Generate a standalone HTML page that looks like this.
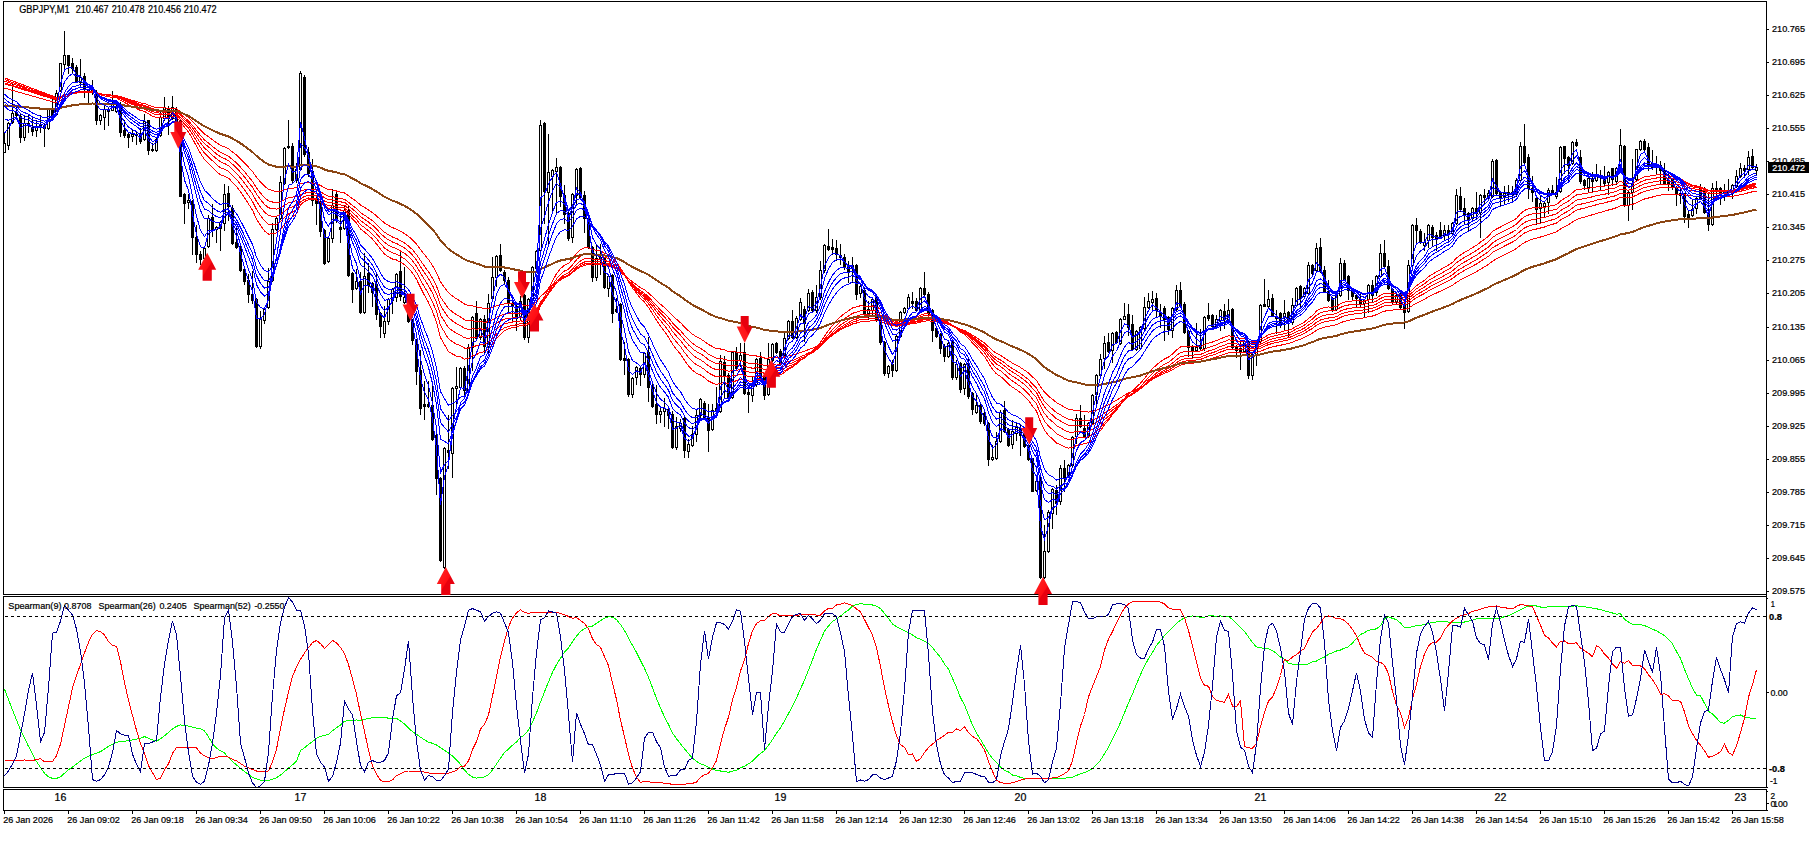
<!DOCTYPE html>
<html><head><meta charset="utf-8"><title>GBPJPY,M1</title>
<style>html,body{margin:0;padding:0;background:#fff;overflow:hidden}svg text{font-family:"Liberation Sans",sans-serif}</style></head>
<body>
<svg width="1816" height="847" viewBox="0 0 1816 847" shape-rendering="crispEdges" style="display:block">
<rect width="1816" height="847" fill="#fff"/>
<defs><clipPath id="cm"><rect x="4" y="2" width="1762" height="592"/></clipPath><clipPath id="ci"><rect x="4" y="597" width="1762" height="190"/></clipPath></defs>
<g clip-path="url(#cm)">
<path d="M4.5 132V153 M8.5 122V150 M12.5 84V124 M16.5 106V120 M20.5 114V143 M24.5 115V141 M28.5 115V133 M32.5 118V136 M36.5 120V137 M40.5 115V133 M44.5 123V147 M48.5 108V130 M52.5 96V117 M56.5 90V116 M60.5 63V92 M64.5 31V70 M68.5 55V74 M72.5 58V74 M76.5 65V83 M80.5 59V87 M84.5 73V98 M88.5 89V103 M92.5 80V95 M96.5 90V125 M100.5 114V125 M104.5 106V130 M108.5 108V126 M112.5 91V111 M116.5 104V113 M120.5 102V137 M124.5 120V138 M128.5 133V148 M132.5 129V142 M136.5 131V145 M140.5 128V144 M144.5 114V141 M148.5 120V155 M152.5 143V152 M156.5 138V152 M160.5 110V137 M164.5 97V121 M168.5 106V135 M172.5 96V120 M176.5 107V123 M180.5 120V197 M184.5 193V224 M188.5 194V209 M192.5 200V255 M196.5 225V263 M200.5 251V265 M204.5 246V260 M208.5 215V248 M212.5 204V237 M216.5 226V243 M220.5 221V251 M224.5 184V231 M228.5 186V221 M232.5 205V245 M236.5 228V249 M240.5 245V272 M244.5 268V285 M248.5 274V303 M252.5 271V304 M256.5 298V348 M260.5 311V349 M264.5 308V324 M268.5 268V309 M272.5 223V282 M276.5 216V231 M280.5 176V220 M284.5 147V185 M288.5 120V149 M292.5 143V183 M296.5 163V183 M300.5 71V171 M304.5 75V157 M308.5 147V177 M312.5 159V206 M316.5 197V225 M320.5 200V237 M324.5 229V265 M328.5 237V263 M332.5 189V243 M336.5 192V223 M340.5 214V243 M344.5 206V230 M348.5 206V277 M352.5 272V303 M356.5 269V290 M360.5 272V314 M364.5 253V314 M368.5 263V293 M372.5 282V307 M376.5 273V320 M380.5 312V338 M384.5 306V338 M388.5 298V325 M392.5 288V314 M396.5 273V302 M400.5 252V301 M404.5 267V304 M408.5 297V323 M412.5 319V345 M416.5 339V385 M420.5 350V415 M424.5 381V420 M428.5 381V408 M432.5 384V441 M436.5 434V495 M440.5 477V562 M444.5 447V569 M448.5 415V469 M452.5 387V478 M456.5 367V404 M460.5 367V389 M464.5 366V395 M468.5 344V395 M472.5 316V371 M476.5 301V340 M480.5 318V340 M484.5 315V353 M488.5 294V353 M492.5 257V300 M496.5 255V287 M500.5 244V272 M504.5 270V284 M508.5 277V314 M512.5 301V322 M516.5 305V331 M520.5 296V321 M524.5 294V340 M528.5 298V343 M532.5 266V301 M536.5 250V270 M540.5 120V253 M544.5 122V224 M548.5 134V244 M552.5 169V212 M556.5 158V214 M560.5 166V207 M564.5 185V224 M568.5 212V241 M572.5 193V243 M576.5 168V205 M580.5 167V199 M584.5 191V233 M588.5 217V249 M592.5 246V282 M596.5 245V281 M600.5 244V275 M604.5 257V289 M608.5 275V297 M612.5 274V323 M616.5 298V313 M620.5 303V361 M624.5 342V375 M628.5 358V397 M632.5 377V398 M636.5 366V385 M640.5 367V386 M644.5 352V378 M648.5 337V402 M652.5 384V408 M656.5 385V424 M660.5 406V423 M664.5 398V427 M668.5 408V429 M672.5 411V449 M676.5 417V450 M680.5 419V432 M684.5 417V458 M688.5 439V458 M692.5 426V447 M696.5 410V442 M700.5 398V419 M704.5 401V420 M708.5 404V452 M712.5 404V431 M716.5 387V417 M720.5 355V413 M724.5 356V399 M728.5 373V399 M732.5 351V399 M736.5 347V370 M740.5 343V367 M744.5 343V395 M748.5 388V413 M752.5 377V402 M756.5 358V387 M760.5 352V379 M764.5 376V400 M768.5 343V396 M772.5 343V362 M776.5 342V354 M780.5 349V366 M784.5 333V357 M788.5 320V340 M792.5 310V339 M796.5 316V339 M800.5 298V321 M804.5 306V342 M808.5 289V312 M812.5 290V312 M816.5 285V313 M820.5 261V300 M824.5 244V273 M828.5 229V251 M832.5 239V255 M836.5 240V261 M840.5 244V265 M844.5 254V270 M848.5 261V283 M852.5 257V283 M856.5 264V300 M860.5 285V298 M864.5 287V315 M868.5 301V320 M872.5 297V315 M876.5 296V322 M880.5 318V345 M884.5 341V376 M888.5 365V378 M892.5 360V377 M896.5 334V372 M900.5 311V338 M904.5 307V314 M908.5 294V310 M912.5 292V309 M916.5 298V312 M920.5 287V311 M924.5 272V296 M928.5 292V315 M932.5 309V342 M936.5 327V338 M940.5 333V354 M944.5 344V362 M948.5 342V358 M952.5 340V380 M956.5 360V380 M960.5 362V393 M964.5 363V395 M968.5 359V399 M972.5 392V415 M976.5 395V414 M980.5 403V424 M984.5 412V426 M988.5 422V466 M992.5 445V461 M996.5 432V460 M1000.5 410V443 M1004.5 401V433 M1008.5 428V447 M1012.5 420V449 M1016.5 422V441 M1020.5 425V456 M1024.5 433V448 M1028.5 444V461 M1032.5 458V492 M1036.5 481V492 M1040.5 477V579 M1044.5 525V579 M1048.5 510V553 M1052.5 488V529 M1056.5 485V515 M1060.5 465V505 M1064.5 460V492 M1068.5 464V477 M1072.5 436V467 M1076.5 414V444 M1080.5 405V428 M1084.5 415V438 M1088.5 422V438 M1092.5 394V425 M1096.5 374V407 M1100.5 354V377 M1104.5 336V369 M1108.5 333V353 M1112.5 332V363 M1116.5 331V344 M1120.5 318V345 M1124.5 303V320 M1128.5 304V336 M1132.5 315V351 M1136.5 330V351 M1140.5 326V350 M1144.5 297V330 M1148.5 293V309 M1152.5 291V311 M1156.5 293V318 M1160.5 304V328 M1164.5 306V341 M1168.5 316V335 M1172.5 307V338 M1176.5 285V311 M1180.5 282V307 M1184.5 302V334 M1188.5 330V357 M1192.5 345V359 M1196.5 323V352 M1200.5 329V350 M1204.5 316V351 M1208.5 303V321 M1212.5 314V328 M1216.5 315V328 M1220.5 309V331 M1224.5 304V329 M1228.5 299V321 M1232.5 308V349 M1236.5 345V358 M1240.5 341V370 M1244.5 340V353 M1248.5 340V379 M1252.5 353V380 M1256.5 341V366 M1260.5 304V343 M1264.5 279V307 M1268.5 290V308 M1272.5 294V317 M1276.5 310V334 M1280.5 312V328 M1284.5 300V331 M1288.5 311V338 M1292.5 298V325 M1296.5 287V307 M1300.5 285V307 M1304.5 287V298 M1308.5 262V295 M1312.5 264V275 M1316.5 243V272 M1320.5 238V273 M1324.5 266V293 M1328.5 280V302 M1332.5 297V312 M1336.5 294V311 M1340.5 258V297 M1344.5 260V281 M1348.5 275V300 M1352.5 288V300 M1356.5 294V308 M1360.5 292V308 M1364.5 299V318 M1368.5 284V313 M1372.5 280V302 M1376.5 275V296 M1380.5 244V278 M1384.5 240V268 M1388.5 260V290 M1392.5 288V305 M1396.5 294V305 M1400.5 292V310 M1404.5 302V329 M1408.5 260V313 M1412.5 224V267 M1416.5 218V243 M1420.5 229V244 M1424.5 233V251 M1428.5 224V248 M1432.5 225V246 M1436.5 232V251 M1440.5 222V239 M1444.5 225V241 M1448.5 225V241 M1452.5 222V235 M1456.5 189V225 M1460.5 187V212 M1464.5 198V225 M1468.5 212V231 M1472.5 207V220 M1476.5 192V220 M1480.5 194V238 M1484.5 189V205 M1488.5 190V200 M1492.5 159V198 M1496.5 159V195 M1500.5 191V207 M1504.5 186V204 M1508.5 185V202 M1512.5 186V203 M1516.5 178V197 M1520.5 142V182 M1524.5 124V164 M1528.5 154V199 M1532.5 176V202 M1536.5 197V225 M1540.5 196V223 M1544.5 202V218 M1548.5 188V214 M1552.5 185V195 M1556.5 177V199 M1560.5 146V193 M1564.5 146V174 M1568.5 156V182 M1572.5 141V165 M1576.5 139V147 M1580.5 150V184 M1584.5 179V190 M1588.5 177V193 M1592.5 172V193 M1596.5 164V182 M1600.5 170V190 M1604.5 166V187 M1608.5 171V195 M1612.5 168V186 M1616.5 167V185 M1620.5 129V171 M1624.5 145V207 M1628.5 191V221 M1632.5 159V210 M1636.5 149V181 M1640.5 140V151 M1644.5 139V151 M1648.5 143V171 M1652.5 150V170 M1656.5 156V175 M1660.5 161V185 M1664.5 163V185 M1668.5 174V191 M1672.5 178V190 M1676.5 186V206 M1680.5 188V204 M1684.5 193V223 M1688.5 211V228 M1692.5 200V217 M1696.5 197V214 M1700.5 184V200 M1704.5 187V214 M1708.5 192V231 M1712.5 183V226 M1716.5 181V197 M1720.5 187V205 M1724.5 184V201 M1728.5 179V196 M1732.5 184V199 M1736.5 170V188 M1740.5 163V178 M1744.5 165V177 M1748.5 151V175 M1752.5 149V169 M1756.5 164V176" stroke="#000" stroke-width="1" fill="none"/>
<path d="M15 112h3v4h-3z M19 116h3v22h-3z M27 123h3v2h-3z M31 127h3v5h-3z M39 124h3v4h-3z M43 125h3v4h-3z M51 109h3v7h-3z M67 55h3v11h-3z M71 63h3v6h-3z M75 67h3v15h-3z M83 76h3v14h-3z M87 90h3v2h-3z M95 94h3v27h-3z M119 107h3v26h-3z M123 130h3v6h-3z M127 134h3v4h-3z M135 134h3v2h-3z M139 134h3v8h-3z M147 120h3v31h-3z M167 108h3v11h-3z M175 109h3v13h-3z M179 121h3v76h-3z M183 194h3v10h-3z M191 201h3v37h-3z M195 237h3v18h-3z M199 254h3v6h-3z M211 217h3v13h-3z M227 193h3v14h-3z M231 208h3v36h-3z M235 242h3v6h-3z M239 246h3v25h-3z M243 269h3v13h-3z M247 280h3v15h-3z M251 294h3v7h-3z M255 299h3v48h-3z M287 146h3v2h-3z M291 146h3v35h-3z M303 77h3v78h-3z M307 152h3v22h-3z M311 171h3v30h-3z M315 198h3v6h-3z M319 202h3v30h-3z M323 230h3v34h-3z M335 194h3v25h-3z M339 227h3v3h-3z M347 210h3v66h-3z M351 273h3v17h-3z M359 281h3v32h-3z M367 273h3v13h-3z M371 283h3v10h-3z M375 284h3v31h-3z M379 313h3v14h-3z M399 271h3v26h-3z M407 298h3v24h-3z M411 320h3v21h-3z M415 340h3v32h-3z M419 370h3v39h-3z M423 404h3v3h-3z M427 404h3v3h-3z M431 405h3v35h-3z M435 435h3v44h-3z M439 478h3v83h-3z M447 450h3v3h-3z M463 368h3v23h-3z M475 313h3v26h-3z M483 319h3v28h-3z M499 255h3v16h-3z M503 272h3v9h-3z M507 280h3v24h-3z M511 303h3v4h-3z M515 306h3v13h-3z M523 295h3v43h-3z M543 123h3v69h-3z M559 167h3v30h-3z M563 195h3v20h-3z M567 213h3v26h-3z M579 168h3v30h-3z M583 195h3v24h-3z M587 218h3v30h-3z M591 247h3v31h-3z M599 257h3v3h-3z M603 258h3v30h-3z M611 275h3v39h-3z M615 309h3v3h-3z M619 304h3v56h-3z M623 358h3v3h-3z M627 359h3v36h-3z M639 368h3v7h-3z M647 352h3v36h-3z M651 385h3v22h-3z M655 404h3v11h-3z M667 409h3v7h-3z M671 414h3v34h-3z M683 418h3v33h-3z M703 403h3v16h-3z M707 417h3v14h-3z M723 362h3v15h-3z M727 375h3v23h-3z M735 352h3v17h-3z M743 352h3v42h-3z M747 392h3v3h-3z M759 358h3v20h-3z M763 377h3v19h-3z M775 343h3v10h-3z M779 351h3v14h-3z M791 321h3v17h-3z M803 309h3v15h-3z M811 292h3v19h-3z M827 246h3v4h-3z M831 247h3v3h-3z M835 248h3v7h-3z M839 255h3v3h-3z M843 257h3v11h-3z M847 267h3v6h-3z M855 265h3v30h-3z M863 290h3v24h-3z M875 297h3v24h-3z M879 319h3v24h-3z M883 342h3v32h-3z M891 364h3v7h-3z M911 301h3v3h-3z M915 301h3v10h-3z M923 288h3v7h-3z M927 294h3v20h-3z M931 310h3v21h-3z M935 328h3v9h-3z M939 334h3v15h-3z M943 346h3v11h-3z M951 341h3v37h-3z M959 363h3v27h-3z M967 363h3v34h-3z M971 393h3v17h-3z M979 405h3v17h-3z M983 413h3v11h-3z M987 423h3v37h-3z M1003 410h3v22h-3z M1007 429h3v17h-3z M1019 428h3v8h-3z M1023 434h3v13h-3z M1027 445h3v15h-3z M1031 458h3v34h-3z M1039 478h3v100h-3z M1055 490h3v14h-3z M1063 468h3v11h-3z M1079 418h3v9h-3z M1083 428h3v9h-3z M1107 342h3v10h-3z M1115 332h3v11h-3z M1127 314h3v14h-3z M1131 324h3v26h-3z M1155 298h3v13h-3z M1159 313h3v3h-3z M1163 308h3v12h-3z M1167 317h3v13h-3z M1179 290h3v16h-3z M1183 304h3v29h-3z M1187 331h3v17h-3z M1191 346h3v6h-3z M1199 345h3v4h-3z M1207 315h3v4h-3z M1211 315h3v12h-3z M1223 311h3v9h-3z M1231 309h3v39h-3z M1235 346h3v5h-3z M1239 348h3v4h-3z M1247 341h3v35h-3z M1263 304h3v3h-3z M1271 298h3v18h-3z M1275 316h3v3h-3z M1279 313h3v12h-3z M1287 312h3v10h-3z M1299 286h3v13h-3z M1311 265h3v9h-3z M1319 247h3v25h-3z M1323 270h3v22h-3z M1327 291h3v10h-3z M1331 298h3v12h-3z M1343 263h3v17h-3z M1347 276h3v15h-3z M1351 289h3v8h-3z M1355 295h3v4h-3z M1359 299h3v5h-3z M1371 285h3v11h-3z M1383 253h3v14h-3z M1387 266h3v23h-3z M1391 289h3v13h-3z M1399 294h3v14h-3z M1403 304h3v9h-3z M1415 225h3v6h-3z M1419 231h3v12h-3z M1431 227h3v11h-3z M1435 235h3v4h-3z M1439 230h3v8h-3z M1447 230h3v5h-3z M1459 196h3v14h-3z M1463 208h3v7h-3z M1467 213h3v7h-3z M1475 208h3v6h-3z M1483 195h3v3h-3z M1495 160h3v34h-3z M1499 192h3v6h-3z M1507 192h3v3h-3z M1523 146h3v17h-3z M1527 157h3v32h-3z M1531 188h3v5h-3z M1535 198h3v12h-3z M1551 190h3v4h-3z M1563 146h3v13h-3z M1567 157h3v9h-3z M1575 142h3v4h-3z M1579 157h3v25h-3z M1583 180h3v6h-3z M1591 179h3v3h-3z M1599 176h3v2h-3z M1603 176h3v8h-3z M1611 168h3v12h-3z M1623 146h3v60h-3z M1643 141h3v9h-3z M1647 147h3v20h-3z M1651 163h3v5h-3z M1659 165h3v6h-3z M1663 170h3v14h-3z M1667 180h3v5h-3z M1671 179h3v8h-3z M1675 187h3v8h-3z M1683 193h3v24h-3z M1687 214h3v4h-3z M1699 187h3v12h-3z M1703 188h3v25h-3z M1707 212h3v13h-3z M1715 188h3v2h-3z M1719 188h3v6h-3z M1743 168h3v3h-3z M1751 156h3v12h-3z" fill="#000"/>
<path d="M3.5 143.5h2v9h-2z M7.5 123.5h2v22h-2z M11.5 113.5h2v9h-2z M23.5 123.5h2v14h-2z M35.5 126.5h2v4h-2z M47.5 109.5h2v19h-2z M55.5 93.5h2v21h-2z M59.5 63.5h2v27h-2z M63.5 55.5h2v9h-2z M79.5 77.5h2v5h-2z M91.5 88.5h2v3h-2z M99.5 115.5h2v5h-2z M103.5 109.5h2v8h-2z M107.5 110.5h2v1h-2z M111.5 104.5h2v6h-2z M115.5 106.5h2v5h-2z M131.5 134.5h2v2h-2z M143.5 121.5h2v18h-2z M151.5 149.5h2v1h-2z M155.5 139.5h2v11h-2z M159.5 117.5h2v18h-2z M163.5 107.5h2v11h-2z M171.5 107.5h2v11h-2z M187.5 200.5h2v2h-2z M203.5 248.5h2v10h-2z M207.5 218.5h2v28h-2z M215.5 227.5h2v2h-2z M219.5 222.5h2v6h-2z M223.5 194.5h2v29h-2z M259.5 319.5h2v27h-2z M263.5 309.5h2v11h-2z M267.5 281.5h2v26h-2z M271.5 229.5h2v51h-2z M275.5 218.5h2v11h-2z M279.5 182.5h2v36h-2z M283.5 148.5h2v35h-2z M295.5 169.5h2v11h-2z M299.5 73.5h2v96h-2z M327.5 238.5h2v23h-2z M331.5 205.5h2v33h-2z M343.5 210.5h2v18h-2z M355.5 281.5h2v7h-2z M363.5 276.5h2v36h-2z M383.5 321.5h2v12h-2z M387.5 299.5h2v22h-2z M391.5 289.5h2v11h-2z M395.5 274.5h2v23h-2z M403.5 297.5h2v5h-2z M443.5 448.5h2v119h-2z M451.5 388.5h2v65h-2z M455.5 386.5h2v2h-2z M459.5 368.5h2v19h-2z M467.5 347.5h2v43h-2z M471.5 317.5h2v30h-2z M479.5 319.5h2v18h-2z M487.5 303.5h2v43h-2z M491.5 277.5h2v21h-2z M495.5 256.5h2v21h-2z M519.5 301.5h2v15h-2z M527.5 299.5h2v38h-2z M531.5 267.5h2v32h-2z M535.5 251.5h2v17h-2z M539.5 125.5h2v125h-2z M547.5 172.5h2v20h-2z M551.5 170.5h2v6h-2z M555.5 167.5h2v4h-2z M571.5 194.5h2v43h-2z M575.5 169.5h2v26h-2z M595.5 258.5h2v19h-2z M607.5 276.5h2v12h-2z M631.5 378.5h2v16h-2z M635.5 367.5h2v10h-2z M643.5 353.5h2v21h-2z M659.5 411.5h2v3h-2z M663.5 408.5h2v3h-2z M675.5 426.5h2v21h-2z M679.5 423.5h2v5h-2z M687.5 444.5h2v7h-2z M691.5 434.5h2v11h-2z M695.5 415.5h2v19h-2z M699.5 399.5h2v16h-2z M711.5 410.5h2v19h-2z M715.5 408.5h2v3h-2z M719.5 361.5h2v50h-2z M731.5 352.5h2v45h-2z M739.5 355.5h2v5h-2z M751.5 384.5h2v11h-2z M755.5 359.5h2v25h-2z M767.5 359.5h2v35h-2z M771.5 344.5h2v16h-2z M783.5 338.5h2v17h-2z M787.5 321.5h2v17h-2z M795.5 318.5h2v19h-2z M799.5 302.5h2v17h-2z M807.5 293.5h2v17h-2z M815.5 297.5h2v13h-2z M819.5 270.5h2v27h-2z M823.5 245.5h2v25h-2z M851.5 265.5h2v3h-2z M859.5 286.5h2v7h-2z M867.5 309.5h2v4h-2z M871.5 299.5h2v11h-2z M887.5 366.5h2v7h-2z M895.5 336.5h2v34h-2z M899.5 312.5h2v24h-2z M903.5 308.5h2v4h-2z M907.5 297.5h2v11h-2z M919.5 288.5h2v21h-2z M947.5 343.5h2v13h-2z M955.5 364.5h2v13h-2z M963.5 364.5h2v24h-2z M975.5 405.5h2v7h-2z M991.5 457.5h2v2h-2z M995.5 441.5h2v17h-2z M999.5 412.5h2v29h-2z M1011.5 431.5h2v13h-2z M1015.5 427.5h2v6h-2z M1035.5 481.5h2v9h-2z M1043.5 551.5h2v26h-2z M1047.5 512.5h2v39h-2z M1051.5 489.5h2v24h-2z M1059.5 468.5h2v33h-2z M1067.5 465.5h2v10h-2z M1071.5 437.5h2v28h-2z M1075.5 418.5h2v18h-2z M1087.5 423.5h2v13h-2z M1091.5 395.5h2v28h-2z M1095.5 375.5h2v19h-2z M1099.5 359.5h2v16h-2z M1103.5 343.5h2v15h-2z M1111.5 333.5h2v17h-2z M1119.5 319.5h2v24h-2z M1123.5 316.5h2v3h-2z M1135.5 331.5h2v18h-2z M1139.5 327.5h2v21h-2z M1143.5 307.5h2v21h-2z M1147.5 301.5h2v6h-2z M1151.5 299.5h2v3h-2z M1171.5 308.5h2v22h-2z M1175.5 290.5h2v19h-2z M1195.5 347.5h2v3h-2z M1203.5 317.5h2v31h-2z M1215.5 319.5h2v7h-2z M1219.5 310.5h2v10h-2z M1227.5 310.5h2v9h-2z M1243.5 341.5h2v10h-2z M1251.5 354.5h2v21h-2z M1255.5 341.5h2v13h-2z M1259.5 305.5h2v36h-2z M1267.5 299.5h2v7h-2z M1283.5 313.5h2v4h-2z M1291.5 305.5h2v17h-2z M1295.5 288.5h2v17h-2z M1303.5 288.5h2v8h-2z M1307.5 265.5h2v28h-2z M1315.5 248.5h2v22h-2z M1335.5 295.5h2v14h-2z M1339.5 263.5h2v32h-2z M1363.5 300.5h2v3h-2z M1367.5 285.5h2v14h-2z M1375.5 276.5h2v16h-2z M1379.5 253.5h2v23h-2z M1395.5 295.5h2v7h-2z M1407.5 265.5h2v46h-2z M1411.5 225.5h2v40h-2z M1423.5 242.5h2v3h-2z M1427.5 225.5h2v15h-2z M1443.5 230.5h2v5h-2z M1451.5 223.5h2v10h-2z M1455.5 195.5h2v28h-2z M1471.5 208.5h2v10h-2z M1479.5 195.5h2v17h-2z M1487.5 193.5h2v5h-2z M1491.5 161.5h2v35h-2z M1503.5 193.5h2v3h-2z M1511.5 192.5h2v2h-2z M1515.5 180.5h2v14h-2z M1519.5 146.5h2v34h-2z M1539.5 203.5h2v5h-2z M1543.5 203.5h2v3h-2z M1547.5 190.5h2v12h-2z M1555.5 192.5h2v4h-2z M1559.5 147.5h2v44h-2z M1571.5 142.5h2v21h-2z M1587.5 178.5h2v9h-2z M1595.5 174.5h2v6h-2z M1607.5 172.5h2v10h-2z M1615.5 168.5h2v13h-2z M1619.5 145.5h2v24h-2z M1627.5 192.5h2v13h-2z M1631.5 183.5h2v9h-2z M1635.5 149.5h2v30h-2z M1639.5 141.5h2v8h-2z M1655.5 164.5h2v3h-2z M1679.5 193.5h2v2h-2z M1691.5 209.5h2v6h-2z M1695.5 198.5h2v10h-2z M1711.5 188.5h2v36h-2z M1723.5 190.5h2v2h-2z M1727.5 190.5h2v2h-2z M1731.5 185.5h2v6h-2z M1735.5 176.5h2v10h-2z M1739.5 168.5h2v8h-2z M1747.5 157.5h2v12h-2z M1755.5 167.5h2v3h-2z" fill="#fff" stroke="#000" stroke-width="1"/>
<polyline points="4.5,88.0 8.5,89.2 12.5,90.3 16.5,91.5 20.5,92.6 24.5,93.8 28.5,94.9 32.5,96.1 36.5,97.2 40.5,98.4 44.5,99.5 48.5,100.7 52.5,101.8 56.5,103.0 60.5,100.5 64.5,97.6 68.5,95.5 72.5,93.7 76.5,93.0 80.5,92.0 84.5,91.8 88.5,91.8 92.5,91.6 96.5,93.4 100.5,94.9 104.5,95.8 108.5,96.8 112.5,97.3 116.5,97.8 120.5,100.1 124.5,102.4 128.5,104.6 132.5,106.6 136.5,108.4 140.5,110.6 144.5,111.3 148.5,113.8 152.5,116.1 156.5,117.6 160.5,117.6 164.5,117.0 168.5,117.1 172.5,116.4 176.5,116.8 180.5,121.9 184.5,127.2 188.5,131.9 192.5,138.7 196.5,146.2 200.5,153.5 204.5,159.6 208.5,163.4 212.5,167.7 216.5,171.5 220.5,174.8 224.5,176.1 228.5,178.1 232.5,182.3 236.5,186.5 240.5,191.9 244.5,197.7 248.5,203.9 252.5,210.2 256.5,219.0 260.5,225.4 264.5,230.9 268.5,234.1 272.5,233.8 276.5,232.8 280.5,229.6 284.5,224.4 288.5,219.4 292.5,216.9 296.5,213.8 300.5,204.8 304.5,201.5 308.5,199.7 312.5,199.8 316.5,200.0 320.5,202.1 324.5,206.0 328.5,208.1 332.5,207.9 336.5,208.6 340.5,210.0 344.5,210.0 348.5,214.2 352.5,219.1 356.5,223.1 360.5,228.9 364.5,232.0 368.5,235.4 372.5,239.1 376.5,244.0 380.5,249.3 384.5,253.9 388.5,256.9 392.5,259.0 396.5,260.0 400.5,262.3 404.5,264.6 408.5,268.3 412.5,272.9 416.5,279.3 420.5,287.6 424.5,295.3 428.5,302.5 432.5,311.3 436.5,322.1 440.5,337.5 444.5,344.6 448.5,351.6 452.5,354.0 456.5,356.1 460.5,356.9 464.5,359.1 468.5,358.3 472.5,355.7 476.5,354.6 480.5,352.3 484.5,351.9 488.5,348.8 492.5,344.2 496.5,338.5 500.5,334.2 504.5,330.7 508.5,328.9 512.5,327.5 516.5,326.9 520.5,325.3 524.5,326.1 528.5,324.3 532.5,320.7 536.5,316.2 540.5,303.9 544.5,296.7 548.5,288.6 552.5,281.0 556.5,273.7 560.5,268.7 564.5,265.2 568.5,263.5 572.5,259.0 576.5,253.3 580.5,249.7 584.5,247.7 588.5,247.7 592.5,249.6 596.5,250.2 600.5,250.8 604.5,253.1 608.5,254.6 612.5,258.4 616.5,261.9 620.5,268.2 624.5,274.1 628.5,281.9 632.5,288.1 636.5,293.2 640.5,298.5 644.5,302.0 648.5,307.5 652.5,313.9 656.5,320.4 660.5,326.3 664.5,331.6 668.5,337.0 672.5,344.1 676.5,349.5 680.5,354.2 684.5,360.4 688.5,365.9 692.5,370.3 696.5,373.2 700.5,374.9 704.5,377.7 708.5,381.1 712.5,383.0 716.5,384.7 720.5,383.2 724.5,382.7 728.5,383.7 732.5,381.7 736.5,380.8 740.5,379.2 744.5,380.1 748.5,381.0 752.5,381.3 756.5,379.9 760.5,379.7 764.5,380.7 768.5,379.4 772.5,377.1 776.5,375.5 780.5,374.8 784.5,372.5 788.5,369.2 792.5,367.1 796.5,364.0 800.5,360.0 804.5,357.7 808.5,353.5 812.5,350.8 816.5,347.3 820.5,342.4 824.5,336.1 828.5,330.5 832.5,325.3 836.5,320.7 840.5,316.7 844.5,313.5 848.5,310.8 852.5,307.9 856.5,307.0 860.5,305.7 864.5,306.2 868.5,306.4 872.5,306.0 876.5,306.9 880.5,309.2 884.5,313.4 888.5,316.8 892.5,320.3 896.5,321.3 900.5,320.7 904.5,319.9 908.5,318.5 912.5,317.5 916.5,317.1 920.5,315.2 924.5,313.9 928.5,313.9 932.5,314.9 936.5,316.3 940.5,318.4 944.5,320.9 948.5,322.3 952.5,325.9 956.5,328.4 960.5,332.3 964.5,334.4 968.5,338.4 972.5,343.0 976.5,347.0 980.5,351.8 984.5,356.5 988.5,363.1 992.5,369.2 996.5,373.9 1000.5,376.3 1004.5,379.9 1008.5,384.1 1012.5,387.2 1016.5,389.8 1020.5,392.7 1024.5,396.2 1028.5,400.3 1032.5,406.2 1036.5,411.0 1040.5,421.8 1044.5,430.1 1048.5,435.5 1052.5,438.9 1056.5,443.1 1060.5,444.7 1064.5,446.9 1068.5,448.1 1072.5,447.4 1076.5,445.6 1080.5,444.3 1084.5,443.8 1088.5,442.5 1092.5,439.5 1096.5,435.4 1100.5,430.5 1104.5,424.9 1108.5,420.1 1112.5,414.5 1116.5,409.9 1120.5,404.1 1124.5,398.4 1128.5,393.8 1132.5,391.0 1136.5,387.1 1140.5,383.3 1144.5,378.4 1148.5,373.4 1152.5,368.7 1156.5,364.9 1160.5,361.7 1164.5,359.0 1168.5,357.1 1172.5,354.0 1176.5,349.9 1180.5,347.0 1184.5,346.1 1188.5,346.2 1192.5,346.5 1196.5,346.6 1200.5,346.7 1204.5,344.8 1208.5,343.1 1212.5,342.0 1216.5,340.6 1220.5,338.6 1224.5,337.4 1228.5,335.7 1232.5,336.4 1236.5,337.3 1240.5,338.3 1244.5,338.5 1248.5,340.9 1252.5,341.7 1256.5,341.7 1260.5,339.4 1264.5,337.3 1268.5,334.8 1272.5,333.6 1276.5,332.6 1280.5,332.1 1284.5,330.9 1288.5,330.3 1292.5,328.7 1296.5,326.1 1300.5,324.3 1304.5,322.0 1308.5,318.4 1312.5,315.5 1316.5,311.1 1320.5,308.6 1324.5,307.5 1328.5,307.0 1332.5,307.2 1336.5,306.4 1340.5,303.7 1344.5,302.1 1348.5,301.4 1352.5,301.0 1356.5,300.9 1360.5,301.0 1364.5,301.0 1368.5,300.0 1372.5,299.7 1376.5,298.2 1380.5,295.3 1384.5,293.5 1388.5,293.2 1392.5,293.7 1396.5,293.8 1400.5,294.7 1404.5,295.8 1408.5,293.9 1412.5,289.5 1416.5,285.7 1420.5,282.9 1424.5,280.3 1428.5,276.7 1432.5,274.2 1436.5,271.9 1440.5,269.7 1444.5,267.2 1448.5,265.1 1452.5,262.4 1456.5,258.1 1460.5,254.9 1464.5,252.3 1468.5,250.2 1472.5,247.5 1476.5,245.3 1480.5,242.1 1484.5,239.2 1488.5,236.3 1492.5,231.4 1496.5,229.0 1500.5,227.0 1504.5,224.8 1508.5,222.9 1512.5,220.9 1516.5,218.3 1520.5,213.7 1524.5,210.4 1528.5,208.9 1532.5,207.9 1536.5,208.0 1540.5,207.7 1544.5,207.4 1548.5,206.3 1552.5,205.5 1556.5,204.7 1560.5,201.0 1564.5,198.2 1568.5,196.1 1572.5,192.7 1576.5,189.6 1580.5,189.1 1584.5,188.9 1588.5,188.2 1592.5,187.8 1596.5,186.9 1600.5,186.3 1604.5,186.1 1608.5,185.2 1612.5,184.9 1616.5,183.8 1620.5,181.3 1624.5,182.9 1628.5,183.5 1632.5,183.5 1636.5,181.3 1640.5,178.8 1644.5,176.9 1648.5,176.2 1652.5,175.6 1656.5,174.9 1660.5,174.6 1664.5,175.2 1668.5,175.8 1672.5,176.5 1676.5,177.7 1680.5,178.7 1684.5,181.1 1688.5,183.5 1692.5,185.1 1696.5,186.0 1700.5,186.8 1704.5,188.5 1708.5,190.8 1712.5,190.6 1716.5,190.6 1720.5,190.8 1724.5,190.7 1728.5,190.7 1732.5,190.4 1736.5,189.5 1740.5,188.1 1744.5,187.0 1748.5,185.1 1752.5,184.0 1756.5,182.9" fill="none" stroke="#ff0000" stroke-width="1"/>
<polyline points="4.5,83.7 8.5,85.0 12.5,86.2 16.5,87.5 20.5,88.7 24.5,90.0 28.5,91.3 32.5,92.5 36.5,93.8 40.5,95.1 44.5,96.3 48.5,97.6 52.5,98.8 56.5,100.1 60.5,98.1 64.5,95.7 68.5,94.0 72.5,92.6 76.5,92.0 80.5,91.2 84.5,91.1 88.5,91.1 92.5,91.0 96.5,92.6 100.5,93.9 104.5,94.7 108.5,95.6 112.5,96.1 116.5,96.7 120.5,98.7 124.5,100.7 128.5,102.8 132.5,104.5 136.5,106.3 140.5,108.2 144.5,109.0 148.5,111.3 152.5,113.4 156.5,114.8 160.5,115.0 164.5,114.6 168.5,114.8 172.5,114.4 176.5,114.8 180.5,119.3 184.5,124.0 188.5,128.2 192.5,134.3 196.5,141.0 200.5,147.6 204.5,153.2 208.5,156.8 212.5,160.8 216.5,164.6 220.5,167.8 224.5,169.3 228.5,171.3 232.5,175.3 236.5,179.3 240.5,184.4 244.5,189.8 248.5,195.6 252.5,201.4 256.5,209.5 260.5,215.6 264.5,220.8 268.5,224.2 272.5,224.5 276.5,224.2 280.5,221.8 284.5,217.8 288.5,213.9 292.5,212.0 296.5,209.7 300.5,202.1 304.5,199.4 308.5,198.0 312.5,198.1 316.5,198.4 320.5,200.3 324.5,203.8 328.5,205.7 332.5,205.7 336.5,206.4 340.5,207.7 344.5,207.9 348.5,211.6 352.5,215.9 356.5,219.6 360.5,224.7 364.5,227.6 368.5,230.8 372.5,234.3 376.5,238.7 380.5,243.6 384.5,247.9 388.5,250.8 392.5,252.9 396.5,254.1 400.5,256.5 404.5,258.8 408.5,262.3 412.5,266.6 416.5,272.4 420.5,280.0 424.5,287.0 428.5,293.7 432.5,301.8 436.5,311.6 440.5,325.4 444.5,332.2 448.5,338.9 452.5,341.7 456.5,344.2 460.5,345.5 464.5,348.0 468.5,348.0 472.5,346.3 476.5,345.9 480.5,344.4 484.5,344.5 488.5,342.2 492.5,338.6 496.5,334.1 500.5,330.5 504.5,327.8 508.5,326.4 512.5,325.3 516.5,324.9 520.5,323.6 524.5,324.4 528.5,323.0 532.5,319.9 536.5,316.1 540.5,305.5 544.5,299.2 548.5,292.2 552.5,285.4 556.5,278.9 560.5,274.3 564.5,271.0 568.5,269.2 572.5,265.0 576.5,259.7 580.5,256.2 584.5,254.2 588.5,253.8 592.5,255.1 596.5,255.3 600.5,255.5 604.5,257.3 608.5,258.4 612.5,261.4 616.5,264.2 620.5,269.5 624.5,274.6 628.5,281.2 632.5,286.6 636.5,291.1 640.5,295.8 644.5,299.0 648.5,303.9 652.5,309.6 656.5,315.4 660.5,320.7 664.5,325.6 668.5,330.6 672.5,337.1 676.5,342.1 680.5,346.6 684.5,352.4 688.5,357.5 692.5,361.8 696.5,364.8 700.5,366.7 704.5,369.6 708.5,372.9 712.5,375.0 716.5,376.9 720.5,376.0 724.5,376.1 728.5,377.3 732.5,375.9 736.5,375.5 740.5,374.4 744.5,375.4 748.5,376.5 752.5,376.9 756.5,376.0 760.5,376.0 764.5,377.1 768.5,376.1 772.5,374.4 776.5,373.2 780.5,372.7 784.5,370.8 788.5,368.1 792.5,366.4 796.5,363.7 800.5,360.3 804.5,358.3 808.5,354.7 812.5,352.2 816.5,349.2 820.5,344.8 824.5,339.3 828.5,334.3 832.5,329.6 836.5,325.4 840.5,321.6 844.5,318.6 848.5,316.1 852.5,313.3 856.5,312.2 860.5,310.8 864.5,310.9 868.5,310.9 872.5,310.2 876.5,310.8 880.5,312.6 884.5,315.9 888.5,318.8 892.5,321.6 896.5,322.5 900.5,321.9 904.5,321.2 908.5,319.8 912.5,318.9 916.5,318.5 920.5,316.8 924.5,315.6 928.5,315.4 932.5,316.3 936.5,317.4 940.5,319.1 944.5,321.2 948.5,322.4 952.5,325.5 956.5,327.7 960.5,331.1 964.5,333.0 968.5,336.5 972.5,340.5 976.5,344.2 980.5,348.5 984.5,352.6 988.5,358.6 992.5,364.1 996.5,368.4 1000.5,370.8 1004.5,374.2 1008.5,378.1 1012.5,381.1 1016.5,383.7 1020.5,386.6 1024.5,389.9 1028.5,393.8 1032.5,399.2 1036.5,403.8 1040.5,413.4 1044.5,421.1 1048.5,426.2 1052.5,429.7 1056.5,433.8 1060.5,435.7 1064.5,438.1 1068.5,439.6 1072.5,439.5 1076.5,438.3 1080.5,437.7 1084.5,437.6 1088.5,436.8 1092.5,434.5 1096.5,431.2 1100.5,427.3 1104.5,422.6 1108.5,418.7 1112.5,413.9 1116.5,410.0 1120.5,404.9 1124.5,400.0 1128.5,396.0 1132.5,393.4 1136.5,390.0 1140.5,386.5 1144.5,382.1 1148.5,377.6 1152.5,373.3 1156.5,369.8 1160.5,366.8 1164.5,364.2 1168.5,362.2 1172.5,359.2 1176.5,355.4 1180.5,352.7 1184.5,351.5 1188.5,351.3 1192.5,351.3 1196.5,351.1 1200.5,351.0 1204.5,349.1 1208.5,347.4 1212.5,346.2 1216.5,344.8 1220.5,342.9 1224.5,341.6 1228.5,339.8 1232.5,340.3 1236.5,340.8 1240.5,341.4 1244.5,341.4 1248.5,343.3 1252.5,343.9 1256.5,343.8 1260.5,341.7 1264.5,339.7 1268.5,337.5 1272.5,336.3 1276.5,335.3 1280.5,334.7 1284.5,333.5 1288.5,332.8 1292.5,331.3 1296.5,328.9 1300.5,327.2 1304.5,325.1 1308.5,321.8 1312.5,319.1 1316.5,315.2 1320.5,312.8 1324.5,311.6 1328.5,311.0 1332.5,310.9 1336.5,310.0 1340.5,307.4 1344.5,305.9 1348.5,305.0 1352.5,304.6 1356.5,304.2 1360.5,304.2 1364.5,304.0 1368.5,302.9 1372.5,302.5 1376.5,301.1 1380.5,298.4 1384.5,296.7 1388.5,296.2 1392.5,296.5 1396.5,296.5 1400.5,297.1 1404.5,297.9 1408.5,296.1 1412.5,292.2 1416.5,288.8 1420.5,286.2 1424.5,283.8 1428.5,280.5 1432.5,278.1 1436.5,275.9 1440.5,273.8 1444.5,271.4 1448.5,269.4 1452.5,266.8 1456.5,262.8 1460.5,259.9 1464.5,257.4 1468.5,255.3 1472.5,252.7 1476.5,250.5 1480.5,247.4 1484.5,244.7 1488.5,241.8 1492.5,237.3 1496.5,234.9 1500.5,232.8 1504.5,230.6 1508.5,228.6 1512.5,226.6 1516.5,224.1 1520.5,219.8 1524.5,216.6 1528.5,215.0 1532.5,213.8 1536.5,213.5 1540.5,213.0 1544.5,212.4 1548.5,211.2 1552.5,210.2 1556.5,209.3 1560.5,205.8 1564.5,203.2 1568.5,201.1 1572.5,197.8 1576.5,194.9 1580.5,194.2 1584.5,193.7 1588.5,192.9 1592.5,192.2 1596.5,191.2 1600.5,190.5 1604.5,190.1 1608.5,189.1 1612.5,188.6 1616.5,187.5 1620.5,185.1 1624.5,186.3 1628.5,186.6 1632.5,186.4 1636.5,184.4 1640.5,182.0 1644.5,180.2 1648.5,179.4 1652.5,178.8 1656.5,178.0 1660.5,177.6 1664.5,177.9 1668.5,178.3 1672.5,178.7 1676.5,179.6 1680.5,180.4 1684.5,182.4 1688.5,184.3 1692.5,185.7 1696.5,186.4 1700.5,187.1 1704.5,188.5 1708.5,190.5 1712.5,190.4 1716.5,190.4 1720.5,190.5 1724.5,190.5 1728.5,190.5 1732.5,190.2 1736.5,189.5 1740.5,188.3 1744.5,187.3 1748.5,185.7 1752.5,184.7 1756.5,183.7" fill="none" stroke="#ff0000" stroke-width="1"/>
<polyline points="4.5,82.9 8.5,84.2 12.5,85.5 16.5,86.7 20.5,88.0 24.5,89.3 28.5,90.6 32.5,91.8 36.5,93.1 40.5,94.4 44.5,95.7 48.5,96.9 52.5,98.2 56.5,99.5 60.5,97.7 64.5,95.7 68.5,94.2 72.5,93.0 76.5,92.4 80.5,91.7 84.5,91.6 88.5,91.6 92.5,91.4 96.5,92.8 100.5,93.9 104.5,94.7 108.5,95.5 112.5,95.9 116.5,96.4 120.5,98.2 124.5,100.0 128.5,101.8 132.5,103.4 136.5,105.0 140.5,106.8 144.5,107.5 148.5,109.6 152.5,111.5 156.5,112.9 160.5,113.1 164.5,112.9 168.5,113.1 172.5,112.9 176.5,113.3 180.5,117.3 184.5,121.5 188.5,125.4 192.5,130.9 196.5,136.9 200.5,142.9 204.5,148.0 208.5,151.5 212.5,155.3 216.5,158.8 220.5,161.9 224.5,163.5 228.5,165.6 232.5,169.4 236.5,173.2 240.5,177.9 244.5,183.0 248.5,188.4 252.5,193.9 256.5,201.3 260.5,207.1 264.5,212.1 268.5,215.5 272.5,216.2 276.5,216.3 280.5,214.6 284.5,211.4 288.5,208.3 292.5,206.9 296.5,205.1 300.5,198.7 304.5,196.5 308.5,195.4 312.5,195.7 316.5,196.0 320.5,197.8 324.5,201.0 328.5,202.8 332.5,202.9 336.5,203.7 340.5,205.0 344.5,205.2 348.5,208.7 352.5,212.6 356.5,216.0 360.5,220.7 364.5,223.4 368.5,226.4 372.5,229.6 376.5,233.8 380.5,238.3 384.5,242.4 388.5,245.2 392.5,247.3 396.5,248.6 400.5,251.0 404.5,253.2 408.5,256.6 412.5,260.7 416.5,266.1 420.5,273.0 424.5,279.5 428.5,285.7 432.5,293.2 436.5,302.3 440.5,314.9 444.5,321.4 448.5,327.8 452.5,330.7 456.5,333.5 460.5,335.2 464.5,337.9 468.5,338.3 472.5,337.3 476.5,337.4 480.5,336.5 484.5,337.0 488.5,335.4 492.5,332.5 496.5,328.8 500.5,326.0 504.5,323.8 508.5,322.8 512.5,322.0 516.5,321.8 520.5,320.8 524.5,321.6 528.5,320.6 532.5,318.0 536.5,314.7 540.5,305.5 544.5,299.9 548.5,293.7 552.5,287.7 556.5,281.8 560.5,277.7 564.5,274.6 568.5,272.8 572.5,269.0 576.5,264.2 580.5,260.9 584.5,258.8 588.5,258.3 592.5,259.2 596.5,259.2 600.5,259.2 604.5,260.6 608.5,261.4 612.5,263.9 616.5,266.2 620.5,270.8 624.5,275.2 628.5,281.0 632.5,285.7 636.5,289.7 640.5,293.9 644.5,296.8 648.5,301.2 652.5,306.3 656.5,311.6 660.5,316.5 664.5,321.0 668.5,325.6 672.5,331.5 676.5,336.2 680.5,340.4 684.5,345.8 688.5,350.6 692.5,354.7 696.5,357.7 700.5,359.7 704.5,362.6 708.5,365.9 712.5,368.1 716.5,370.0 720.5,369.6 724.5,370.0 728.5,371.3 732.5,370.4 736.5,370.3 740.5,369.6 744.5,370.7 748.5,371.9 752.5,372.5 756.5,371.9 760.5,372.1 764.5,373.3 768.5,372.6 772.5,371.2 776.5,370.3 780.5,370.0 784.5,368.5 788.5,366.2 792.5,364.8 796.5,362.6 800.5,359.6 804.5,357.9 808.5,354.7 812.5,352.6 816.5,349.9 820.5,346.0 824.5,341.1 828.5,336.6 832.5,332.4 836.5,328.6 840.5,325.1 844.5,322.3 848.5,319.9 852.5,317.2 856.5,316.1 860.5,314.7 864.5,314.6 868.5,314.4 872.5,313.6 876.5,314.0 880.5,315.4 884.5,318.2 888.5,320.6 892.5,323.0 896.5,323.7 900.5,323.1 904.5,322.4 908.5,321.2 912.5,320.3 916.5,319.8 920.5,318.3 924.5,317.2 928.5,317.0 932.5,317.6 936.5,318.6 940.5,320.0 944.5,321.8 948.5,322.9 952.5,325.5 956.5,327.4 960.5,330.4 964.5,332.1 968.5,335.2 972.5,338.9 976.5,342.1 980.5,346.0 984.5,349.8 988.5,355.1 992.5,360.1 996.5,364.1 1000.5,366.5 1004.5,369.6 1008.5,373.3 1012.5,376.2 1016.5,378.7 1020.5,381.4 1024.5,384.6 1028.5,388.3 1032.5,393.3 1036.5,397.6 1040.5,406.4 1044.5,413.5 1048.5,418.3 1052.5,421.8 1056.5,425.8 1060.5,427.8 1064.5,430.3 1068.5,432.0 1072.5,432.3 1076.5,431.6 1080.5,431.4 1084.5,431.6 1088.5,431.2 1092.5,429.5 1096.5,426.8 1100.5,423.6 1104.5,419.7 1108.5,416.3 1112.5,412.3 1116.5,408.9 1120.5,404.5 1124.5,400.2 1128.5,396.7 1132.5,394.4 1136.5,391.3 1140.5,388.2 1144.5,384.3 1148.5,380.2 1152.5,376.3 1156.5,373.1 1160.5,370.3 1164.5,367.8 1168.5,365.9 1172.5,363.1 1176.5,359.6 1180.5,356.9 1184.5,355.8 1188.5,355.4 1192.5,355.2 1196.5,354.8 1200.5,354.5 1204.5,352.7 1208.5,351.0 1212.5,349.8 1216.5,348.3 1220.5,346.5 1224.5,345.2 1228.5,343.5 1232.5,343.7 1236.5,344.0 1240.5,344.4 1244.5,344.2 1248.5,345.8 1252.5,346.2 1256.5,346.0 1260.5,344.0 1264.5,342.2 1268.5,340.1 1272.5,338.9 1276.5,337.9 1280.5,337.2 1284.5,336.1 1288.5,335.4 1292.5,333.9 1296.5,331.7 1300.5,330.1 1304.5,328.0 1308.5,325.0 1312.5,322.5 1316.5,318.9 1320.5,316.6 1324.5,315.3 1328.5,314.6 1332.5,314.4 1336.5,313.4 1340.5,311.0 1344.5,309.5 1348.5,308.5 1352.5,308.0 1356.5,307.5 1360.5,307.3 1364.5,307.0 1368.5,305.9 1372.5,305.4 1376.5,304.0 1380.5,301.5 1384.5,299.8 1388.5,299.3 1392.5,299.4 1396.5,299.2 1400.5,299.6 1404.5,300.2 1408.5,298.5 1412.5,295.0 1416.5,291.8 1420.5,289.4 1424.5,287.1 1428.5,284.1 1432.5,281.9 1436.5,279.7 1440.5,277.7 1444.5,275.4 1448.5,273.4 1452.5,270.9 1456.5,267.3 1460.5,264.5 1464.5,262.0 1468.5,259.9 1472.5,257.4 1476.5,255.3 1480.5,252.4 1484.5,249.7 1488.5,247.0 1492.5,242.8 1496.5,240.4 1500.5,238.3 1504.5,236.1 1508.5,234.1 1512.5,232.0 1516.5,229.5 1520.5,225.5 1524.5,222.4 1528.5,220.8 1532.5,219.4 1536.5,218.9 1540.5,218.1 1544.5,217.4 1548.5,216.1 1552.5,215.0 1556.5,213.9 1560.5,210.7 1564.5,208.1 1568.5,206.1 1572.5,203.0 1576.5,200.1 1580.5,199.2 1584.5,198.6 1588.5,197.6 1592.5,196.8 1596.5,195.7 1600.5,194.8 1604.5,194.3 1608.5,193.2 1612.5,192.5 1616.5,191.4 1620.5,189.1 1624.5,189.9 1628.5,190.1 1632.5,189.7 1636.5,187.8 1640.5,185.5 1644.5,183.8 1648.5,182.9 1652.5,182.2 1656.5,181.3 1660.5,180.8 1664.5,180.9 1668.5,181.1 1672.5,181.3 1676.5,182.0 1680.5,182.6 1684.5,184.2 1688.5,185.8 1692.5,187.0 1696.5,187.5 1700.5,188.1 1704.5,189.3 1708.5,191.0 1712.5,190.9 1716.5,190.8 1720.5,190.9 1724.5,190.9 1728.5,190.9 1732.5,190.6 1736.5,189.9 1740.5,188.9 1744.5,188.0 1748.5,186.5 1752.5,185.6 1756.5,184.7" fill="none" stroke="#ff0000" stroke-width="1"/>
<polyline points="4.5,81.2 8.5,82.6 12.5,83.9 16.5,85.3 20.5,86.6 24.5,88.0 28.5,89.4 32.5,90.7 36.5,92.1 40.5,93.5 44.5,94.8 48.5,96.2 52.5,97.5 56.5,98.9 60.5,97.4 64.5,95.5 68.5,94.2 72.5,93.1 76.5,92.6 80.5,92.0 84.5,91.8 88.5,91.8 92.5,91.7 96.5,92.9 100.5,93.9 104.5,94.6 108.5,95.3 112.5,95.7 116.5,96.2 120.5,97.7 124.5,99.4 128.5,101.0 132.5,102.5 136.5,103.9 140.5,105.6 144.5,106.3 148.5,108.2 152.5,110.0 156.5,111.3 160.5,111.5 164.5,111.4 168.5,111.7 172.5,111.5 176.5,111.9 180.5,115.6 184.5,119.4 188.5,122.9 192.5,127.9 196.5,133.4 200.5,138.9 204.5,143.7 208.5,146.9 212.5,150.5 216.5,153.9 220.5,156.8 224.5,158.5 228.5,160.6 232.5,164.2 236.5,167.8 240.5,172.3 244.5,177.0 248.5,182.1 252.5,187.3 256.5,194.2 260.5,199.6 264.5,204.4 268.5,207.8 272.5,208.7 276.5,209.1 280.5,208.0 284.5,205.4 288.5,202.9 292.5,201.9 296.5,200.5 300.5,195.0 304.5,193.2 308.5,192.4 312.5,192.7 316.5,193.2 320.5,194.8 324.5,197.8 328.5,199.6 332.5,199.9 336.5,200.7 340.5,201.9 344.5,202.3 348.5,205.5 352.5,209.1 356.5,212.3 360.5,216.6 364.5,219.2 368.5,222.1 372.5,225.2 376.5,229.1 380.5,233.3 384.5,237.1 388.5,239.8 392.5,242.0 396.5,243.4 400.5,245.7 404.5,248.0 408.5,251.2 412.5,255.1 416.5,260.1 420.5,266.6 424.5,272.7 428.5,278.5 432.5,285.5 436.5,293.9 440.5,305.5 444.5,311.7 448.5,317.8 452.5,320.9 456.5,323.7 460.5,325.7 464.5,328.5 468.5,329.3 472.5,328.8 476.5,329.2 480.5,328.8 484.5,329.6 488.5,328.4 492.5,326.2 496.5,323.2 500.5,320.9 504.5,319.1 508.5,318.5 512.5,317.9 516.5,318.0 520.5,317.3 524.5,318.1 528.5,317.3 532.5,315.2 536.5,312.4 540.5,304.3 544.5,299.4 548.5,293.8 552.5,288.5 556.5,283.2 560.5,279.5 564.5,276.6 568.5,275.0 572.5,271.5 576.5,267.0 580.5,264.0 584.5,262.0 588.5,261.4 592.5,262.1 596.5,261.9 600.5,261.8 604.5,263.0 608.5,263.5 612.5,265.7 616.5,267.7 620.5,271.7 624.5,275.6 628.5,280.7 632.5,285.0 636.5,288.6 640.5,292.3 644.5,295.0 648.5,299.0 652.5,303.7 656.5,308.5 660.5,313.0 664.5,317.1 668.5,321.4 672.5,326.9 676.5,331.2 680.5,335.2 684.5,340.2 688.5,344.8 692.5,348.7 696.5,351.6 700.5,353.7 704.5,356.5 708.5,359.7 712.5,361.9 716.5,363.9 720.5,363.8 724.5,364.4 728.5,365.8 732.5,365.2 736.5,365.4 740.5,364.9 744.5,366.2 748.5,367.4 752.5,368.2 756.5,367.8 760.5,368.2 764.5,369.4 768.5,369.0 772.5,367.9 776.5,367.2 780.5,367.1 784.5,365.9 788.5,363.9 792.5,362.8 796.5,360.9 800.5,358.3 804.5,356.8 808.5,354.1 812.5,352.2 816.5,349.8 820.5,346.3 824.5,342.0 828.5,337.9 832.5,334.1 836.5,330.6 840.5,327.5 844.5,324.8 848.5,322.6 852.5,320.1 856.5,319.0 860.5,317.6 864.5,317.4 868.5,317.0 872.5,316.3 876.5,316.5 880.5,317.6 884.5,320.0 888.5,322.0 892.5,324.2 896.5,324.7 900.5,324.2 904.5,323.5 908.5,322.4 912.5,321.5 916.5,321.1 920.5,319.6 924.5,318.5 928.5,318.3 932.5,318.9 936.5,319.6 940.5,320.9 944.5,322.4 948.5,323.3 952.5,325.7 956.5,327.4 960.5,330.1 964.5,331.6 968.5,334.4 972.5,337.7 976.5,340.6 980.5,344.1 984.5,347.6 988.5,352.5 992.5,357.0 996.5,360.7 1000.5,362.9 1004.5,365.9 1008.5,369.4 1012.5,372.1 1016.5,374.5 1020.5,377.1 1024.5,380.2 1028.5,383.6 1032.5,388.3 1036.5,392.4 1040.5,400.4 1044.5,407.0 1048.5,411.6 1052.5,415.0 1056.5,418.8 1060.5,421.0 1064.5,423.5 1068.5,425.3 1072.5,425.8 1076.5,425.5 1080.5,425.5 1084.5,426.0 1088.5,425.9 1092.5,424.6 1096.5,422.5 1100.5,419.7 1104.5,416.4 1108.5,413.6 1112.5,410.1 1116.5,407.2 1120.5,403.4 1124.5,399.6 1128.5,396.4 1132.5,394.4 1136.5,391.7 1140.5,388.9 1144.5,385.3 1148.5,381.7 1152.5,378.1 1156.5,375.2 1160.5,372.6 1164.5,370.3 1168.5,368.5 1172.5,365.9 1176.5,362.6 1180.5,360.1 1184.5,358.9 1188.5,358.4 1192.5,358.1 1196.5,357.7 1200.5,357.3 1204.5,355.5 1208.5,353.9 1212.5,352.7 1216.5,351.3 1220.5,349.5 1224.5,348.2 1228.5,346.6 1232.5,346.6 1236.5,346.8 1240.5,347.0 1244.5,346.8 1248.5,348.0 1252.5,348.3 1256.5,348.0 1260.5,346.1 1264.5,344.4 1268.5,342.5 1272.5,341.3 1276.5,340.3 1280.5,339.6 1284.5,338.5 1288.5,337.7 1292.5,336.3 1296.5,334.3 1300.5,332.7 1304.5,330.8 1308.5,327.9 1312.5,325.6 1316.5,322.2 1320.5,320.0 1324.5,318.8 1328.5,318.0 1332.5,317.6 1336.5,316.7 1340.5,314.3 1344.5,312.8 1348.5,311.9 1352.5,311.2 1356.5,310.6 1360.5,310.3 1364.5,309.9 1368.5,308.8 1372.5,308.3 1376.5,306.9 1380.5,304.6 1384.5,302.9 1388.5,302.3 1392.5,302.2 1396.5,302.0 1400.5,302.2 1404.5,302.6 1408.5,301.0 1412.5,297.7 1416.5,294.8 1420.5,292.5 1424.5,290.4 1428.5,287.5 1432.5,285.4 1436.5,283.3 1440.5,281.3 1444.5,279.1 1448.5,277.2 1452.5,274.9 1456.5,271.4 1460.5,268.7 1464.5,266.4 1468.5,264.3 1472.5,261.9 1476.5,259.8 1480.5,257.0 1484.5,254.4 1488.5,251.8 1492.5,247.8 1496.5,245.5 1500.5,243.4 1504.5,241.2 1508.5,239.2 1512.5,237.2 1516.5,234.7 1520.5,230.9 1524.5,227.9 1528.5,226.2 1532.5,224.7 1536.5,224.0 1540.5,223.2 1544.5,222.3 1548.5,220.9 1552.5,219.7 1556.5,218.5 1560.5,215.5 1564.5,213.0 1568.5,210.9 1572.5,207.9 1576.5,205.2 1580.5,204.2 1584.5,203.4 1588.5,202.3 1592.5,201.4 1596.5,200.2 1600.5,199.2 1604.5,198.6 1608.5,197.4 1612.5,196.6 1616.5,195.4 1620.5,193.2 1624.5,193.8 1628.5,193.7 1632.5,193.3 1636.5,191.4 1640.5,189.2 1644.5,187.5 1648.5,186.6 1652.5,185.7 1656.5,184.8 1660.5,184.2 1664.5,184.2 1668.5,184.2 1672.5,184.3 1676.5,184.7 1680.5,185.1 1684.5,186.5 1688.5,187.8 1692.5,188.8 1696.5,189.2 1700.5,189.6 1704.5,190.6 1708.5,192.1 1712.5,191.9 1716.5,191.8 1720.5,191.9 1724.5,191.8 1728.5,191.8 1732.5,191.5 1736.5,190.8 1740.5,189.9 1744.5,189.0 1748.5,187.7 1752.5,186.8 1756.5,185.9" fill="none" stroke="#ff0000" stroke-width="1"/>
<polyline points="4.5,79.6 8.5,81.0 12.5,82.5 16.5,83.9 20.5,85.4 24.5,86.8 28.5,88.2 32.5,89.7 36.5,91.1 40.5,92.5 44.5,94.0 48.5,95.4 52.5,96.9 56.5,98.3 60.5,96.9 64.5,95.3 68.5,94.1 72.5,93.1 76.5,92.7 80.5,92.1 84.5,92.0 88.5,92.0 92.5,91.8 96.5,93.0 100.5,93.8 104.5,94.5 108.5,95.1 112.5,95.4 116.5,95.9 120.5,97.3 124.5,98.8 128.5,100.3 132.5,101.7 136.5,103.0 140.5,104.5 144.5,105.2 148.5,107.0 152.5,108.6 156.5,109.8 160.5,110.1 164.5,110.0 168.5,110.4 172.5,110.2 176.5,110.7 180.5,114.1 184.5,117.6 188.5,120.8 192.5,125.4 196.5,130.5 200.5,135.5 204.5,139.9 208.5,143.0 212.5,146.4 216.5,149.6 220.5,152.5 224.5,154.1 228.5,156.2 232.5,159.6 236.5,163.0 240.5,167.2 244.5,171.7 248.5,176.5 252.5,181.4 256.5,187.9 260.5,193.0 264.5,197.6 268.5,200.9 272.5,202.0 276.5,202.7 280.5,201.9 284.5,199.8 288.5,197.7 292.5,197.1 296.5,196.0 300.5,191.2 304.5,189.7 308.5,189.1 312.5,189.5 316.5,190.1 320.5,191.7 324.5,194.5 328.5,196.3 332.5,196.6 336.5,197.5 340.5,198.7 344.5,199.2 348.5,202.2 352.5,205.6 356.5,208.6 360.5,212.7 364.5,215.2 368.5,217.9 372.5,220.8 376.5,224.5 380.5,228.5 384.5,232.2 388.5,234.8 392.5,237.0 396.5,238.4 400.5,240.7 404.5,242.9 408.5,246.0 412.5,249.7 416.5,254.5 420.5,260.5 424.5,266.3 428.5,271.8 432.5,278.3 436.5,286.2 440.5,296.9 444.5,302.9 448.5,308.8 452.5,311.9 456.5,314.8 460.5,316.9 464.5,319.8 468.5,320.9 472.5,320.7 476.5,321.4 480.5,321.4 484.5,322.4 488.5,321.6 492.5,319.9 496.5,317.4 500.5,315.6 504.5,314.2 508.5,313.8 512.5,313.5 516.5,313.7 520.5,313.2 524.5,314.2 528.5,313.6 532.5,311.8 536.5,309.4 540.5,302.2 544.5,297.9 548.5,292.9 552.5,288.1 556.5,283.4 560.5,280.0 564.5,277.4 568.5,275.9 572.5,272.7 576.5,268.7 580.5,265.9 584.5,264.0 588.5,263.4 592.5,263.9 596.5,263.7 600.5,263.5 604.5,264.5 608.5,265.0 612.5,266.9 616.5,268.6 620.5,272.2 624.5,275.6 628.5,280.3 632.5,284.1 636.5,287.4 640.5,290.8 644.5,293.3 648.5,297.0 652.5,301.3 656.5,305.7 660.5,309.9 664.5,313.7 668.5,317.7 672.5,322.8 676.5,326.9 680.5,330.7 684.5,335.4 688.5,339.6 692.5,343.4 696.5,346.2 700.5,348.3 704.5,351.0 708.5,354.2 712.5,356.4 716.5,358.4 720.5,358.5 724.5,359.2 728.5,360.7 732.5,360.4 736.5,360.7 740.5,360.5 744.5,361.8 748.5,363.1 752.5,363.9 756.5,363.8 760.5,364.3 764.5,365.5 768.5,365.3 772.5,364.5 776.5,364.0 780.5,364.0 784.5,363.0 788.5,361.4 792.5,360.5 796.5,358.8 800.5,356.6 804.5,355.3 808.5,352.9 812.5,351.2 816.5,349.1 820.5,346.0 824.5,342.1 828.5,338.5 832.5,335.0 836.5,331.8 840.5,328.9 844.5,326.5 848.5,324.4 852.5,322.1 856.5,321.0 860.5,319.6 864.5,319.4 868.5,319.0 872.5,318.2 876.5,318.3 880.5,319.3 884.5,321.4 888.5,323.2 892.5,325.0 896.5,325.5 900.5,325.0 904.5,324.3 908.5,323.3 912.5,322.5 916.5,322.0 920.5,320.7 924.5,319.7 928.5,319.4 932.5,319.9 936.5,320.5 940.5,321.6 944.5,323.0 948.5,323.8 952.5,325.9 956.5,327.4 960.5,329.8 964.5,331.2 968.5,333.8 972.5,336.7 976.5,339.4 980.5,342.7 984.5,345.8 988.5,350.3 992.5,354.5 996.5,357.9 1000.5,360.0 1004.5,362.8 1008.5,366.1 1012.5,368.6 1016.5,371.0 1020.5,373.5 1024.5,376.4 1028.5,379.6 1032.5,384.0 1036.5,387.8 1040.5,395.3 1044.5,401.4 1048.5,405.7 1052.5,409.0 1056.5,412.7 1060.5,414.9 1064.5,417.4 1068.5,419.3 1072.5,420.0 1076.5,420.0 1080.5,420.2 1084.5,420.9 1088.5,421.0 1092.5,420.0 1096.5,418.2 1100.5,415.9 1104.5,413.1 1108.5,410.7 1112.5,407.6 1116.5,405.1 1120.5,401.7 1124.5,398.4 1128.5,395.6 1132.5,393.8 1136.5,391.3 1140.5,388.8 1144.5,385.7 1148.5,382.4 1152.5,379.1 1156.5,376.4 1160.5,374.0 1164.5,371.9 1168.5,370.2 1172.5,367.8 1176.5,364.8 1180.5,362.4 1184.5,361.3 1188.5,360.7 1192.5,360.4 1196.5,359.9 1200.5,359.4 1204.5,357.8 1208.5,356.2 1212.5,355.1 1216.5,353.7 1220.5,352.0 1224.5,350.7 1228.5,349.1 1232.5,349.1 1236.5,349.1 1240.5,349.2 1244.5,348.9 1248.5,350.0 1252.5,350.1 1256.5,349.8 1260.5,348.1 1264.5,346.4 1268.5,344.6 1272.5,343.4 1276.5,342.5 1280.5,341.8 1284.5,340.7 1288.5,339.9 1292.5,338.6 1296.5,336.6 1300.5,335.1 1304.5,333.3 1308.5,330.6 1312.5,328.4 1316.5,325.2 1320.5,323.1 1324.5,321.9 1328.5,321.1 1332.5,320.6 1336.5,319.6 1340.5,317.4 1344.5,315.9 1348.5,314.9 1352.5,314.2 1356.5,313.6 1360.5,313.2 1364.5,312.7 1368.5,311.6 1372.5,311.0 1376.5,309.6 1380.5,307.4 1384.5,305.8 1388.5,305.2 1392.5,305.0 1396.5,304.6 1400.5,304.8 1404.5,305.1 1408.5,303.5 1412.5,300.4 1416.5,297.7 1420.5,295.5 1424.5,293.5 1428.5,290.8 1432.5,288.7 1436.5,286.7 1440.5,284.8 1444.5,282.7 1448.5,280.8 1452.5,278.5 1456.5,275.3 1460.5,272.7 1464.5,270.4 1468.5,268.4 1472.5,266.1 1476.5,264.0 1480.5,261.3 1484.5,258.8 1488.5,256.3 1492.5,252.5 1496.5,250.2 1500.5,248.2 1504.5,246.0 1508.5,244.0 1512.5,242.0 1516.5,239.6 1520.5,235.9 1524.5,233.0 1528.5,231.3 1532.5,229.8 1536.5,229.0 1540.5,228.0 1544.5,227.0 1548.5,225.6 1552.5,224.3 1556.5,223.1 1560.5,220.1 1564.5,217.7 1568.5,215.7 1572.5,212.8 1576.5,210.1 1580.5,209.0 1584.5,208.1 1588.5,206.9 1592.5,205.9 1596.5,204.7 1600.5,203.6 1604.5,202.9 1608.5,201.7 1612.5,200.8 1616.5,199.5 1620.5,197.4 1624.5,197.7 1628.5,197.5 1632.5,197.0 1636.5,195.1 1640.5,193.0 1644.5,191.3 1648.5,190.3 1652.5,189.4 1656.5,188.5 1660.5,187.7 1664.5,187.6 1668.5,187.5 1672.5,187.4 1676.5,187.7 1680.5,187.9 1684.5,189.0 1688.5,190.2 1692.5,190.9 1696.5,191.2 1700.5,191.5 1704.5,192.3 1708.5,193.6 1712.5,193.4 1716.5,193.2 1720.5,193.2 1724.5,193.1 1728.5,193.0 1732.5,192.7 1736.5,192.1 1740.5,191.2 1744.5,190.4 1748.5,189.1 1752.5,188.2 1756.5,187.4" fill="none" stroke="#ff0000" stroke-width="1"/>
<polyline points="4.5,77.9 8.5,79.4 12.5,80.9 16.5,82.4 20.5,83.9 24.5,85.4 28.5,86.9 32.5,88.5 36.5,90.0 40.5,91.5 44.5,93.0 48.5,94.5 52.5,96.0 56.5,97.5 60.5,96.4 64.5,95.0 68.5,94.1 72.5,93.2 76.5,92.9 80.5,92.3 84.5,92.3 88.5,92.2 92.5,92.1 96.5,93.0 100.5,93.8 104.5,94.3 108.5,94.8 112.5,95.1 116.5,95.5 120.5,96.7 124.5,98.0 128.5,99.3 132.5,100.4 136.5,101.6 140.5,102.9 144.5,103.5 148.5,105.1 152.5,106.5 156.5,107.6 160.5,107.9 164.5,107.9 168.5,108.3 172.5,108.2 176.5,108.7 180.5,111.5 184.5,114.6 188.5,117.4 192.5,121.3 196.5,125.7 200.5,130.1 204.5,134.0 208.5,136.7 212.5,139.8 216.5,142.6 220.5,145.3 224.5,146.9 228.5,148.8 232.5,151.9 236.5,155.1 240.5,158.9 244.5,162.9 248.5,167.2 252.5,171.6 256.5,177.3 260.5,182.0 264.5,186.1 268.5,189.3 272.5,190.6 276.5,191.5 280.5,191.2 284.5,189.8 288.5,188.4 292.5,188.2 296.5,187.5 300.5,183.8 304.5,182.8 308.5,182.5 312.5,183.1 316.5,183.8 320.5,185.4 324.5,187.9 328.5,189.6 332.5,190.1 336.5,191.0 340.5,192.3 344.5,192.9 348.5,195.6 352.5,198.7 356.5,201.4 360.5,205.0 364.5,207.4 368.5,209.9 372.5,212.6 376.5,216.0 380.5,219.6 384.5,223.0 388.5,225.5 392.5,227.6 396.5,229.1 400.5,231.3 404.5,233.5 408.5,236.4 412.5,239.8 416.5,244.1 420.5,249.5 424.5,254.6 428.5,259.6 432.5,265.5 436.5,272.5 440.5,281.9 444.5,287.4 448.5,292.8 452.5,296.0 456.5,298.9 460.5,301.2 464.5,304.1 468.5,305.6 472.5,305.9 476.5,307.0 480.5,307.4 484.5,308.7 488.5,308.5 492.5,307.5 496.5,305.8 500.5,304.7 504.5,303.9 508.5,303.9 512.5,304.0 516.5,304.4 520.5,304.3 524.5,305.4 528.5,305.2 532.5,304.0 536.5,302.3 540.5,296.5 544.5,293.0 548.5,289.1 552.5,285.2 556.5,281.3 560.5,278.6 564.5,276.5 568.5,275.2 572.5,272.6 576.5,269.2 580.5,266.8 584.5,265.3 588.5,264.7 592.5,265.1 596.5,264.9 600.5,264.7 604.5,265.4 608.5,265.8 612.5,267.4 616.5,268.8 620.5,271.8 624.5,274.7 628.5,278.6 632.5,281.9 636.5,284.7 640.5,287.7 644.5,289.8 648.5,293.0 652.5,296.7 656.5,300.6 660.5,304.2 664.5,307.7 668.5,311.2 672.5,315.7 676.5,319.3 680.5,322.7 684.5,326.9 688.5,330.8 692.5,334.2 696.5,336.8 700.5,338.9 704.5,341.5 708.5,344.4 712.5,346.6 716.5,348.6 720.5,349.0 724.5,349.9 728.5,351.5 732.5,351.5 736.5,352.1 740.5,352.2 744.5,353.5 748.5,354.9 752.5,355.9 756.5,356.0 760.5,356.7 764.5,358.0 768.5,358.0 772.5,357.6 776.5,357.4 780.5,357.6 784.5,357.0 788.5,355.8 792.5,355.2 796.5,354.0 800.5,352.3 804.5,351.4 808.5,349.5 812.5,348.2 816.5,346.6 820.5,344.1 824.5,340.8 828.5,337.8 832.5,334.9 836.5,332.3 840.5,329.9 844.5,327.8 848.5,326.0 852.5,324.0 856.5,323.0 860.5,321.8 864.5,321.6 868.5,321.2 872.5,320.5 876.5,320.5 880.5,321.2 884.5,322.9 888.5,324.3 892.5,325.8 896.5,326.2 900.5,325.7 904.5,325.2 908.5,324.3 912.5,323.6 916.5,323.2 920.5,322.0 924.5,321.1 928.5,320.9 932.5,321.2 936.5,321.7 940.5,322.6 944.5,323.7 948.5,324.3 952.5,326.1 956.5,327.3 960.5,329.4 964.5,330.5 968.5,332.7 972.5,335.2 976.5,337.5 980.5,340.3 984.5,343.0 988.5,346.8 992.5,350.4 996.5,353.4 1000.5,355.4 1004.5,357.9 1008.5,360.7 1012.5,363.1 1016.5,365.2 1020.5,367.5 1024.5,370.1 1028.5,373.0 1032.5,376.9 1036.5,380.3 1040.5,386.8 1044.5,392.2 1048.5,396.1 1052.5,399.2 1056.5,402.6 1060.5,404.8 1064.5,407.2 1068.5,409.1 1072.5,410.0 1076.5,410.3 1080.5,410.8 1084.5,411.7 1088.5,412.1 1092.5,411.5 1096.5,410.3 1100.5,408.7 1104.5,406.5 1108.5,404.7 1112.5,402.4 1116.5,400.4 1120.5,397.8 1124.5,395.1 1128.5,392.9 1132.5,391.5 1136.5,389.5 1140.5,387.5 1144.5,384.9 1148.5,382.1 1152.5,379.4 1156.5,377.2 1160.5,375.1 1164.5,373.3 1168.5,371.9 1172.5,369.8 1176.5,367.2 1180.5,365.2 1184.5,364.1 1188.5,363.6 1192.5,363.2 1196.5,362.6 1200.5,362.2 1204.5,360.7 1208.5,359.3 1212.5,358.3 1216.5,357.0 1220.5,355.5 1224.5,354.3 1228.5,352.8 1232.5,352.7 1236.5,352.6 1240.5,352.6 1244.5,352.2 1248.5,353.0 1252.5,353.0 1256.5,352.6 1260.5,351.1 1264.5,349.6 1268.5,348.0 1272.5,346.9 1276.5,346.0 1280.5,345.3 1284.5,344.2 1288.5,343.5 1292.5,342.3 1296.5,340.5 1300.5,339.1 1304.5,337.5 1308.5,335.1 1312.5,333.1 1316.5,330.3 1320.5,328.4 1324.5,327.2 1328.5,326.3 1332.5,325.7 1336.5,324.7 1340.5,322.7 1344.5,321.3 1348.5,320.3 1352.5,319.5 1356.5,318.8 1360.5,318.3 1364.5,317.8 1368.5,316.7 1372.5,316.0 1376.5,314.7 1380.5,312.7 1384.5,311.2 1388.5,310.4 1392.5,310.1 1396.5,309.7 1400.5,309.6 1404.5,309.7 1408.5,308.2 1412.5,305.5 1416.5,303.1 1420.5,301.1 1424.5,299.2 1428.5,296.7 1432.5,294.8 1436.5,293.0 1440.5,291.1 1444.5,289.2 1448.5,287.4 1452.5,285.3 1456.5,282.3 1460.5,279.9 1464.5,277.8 1468.5,275.9 1472.5,273.7 1476.5,271.7 1480.5,269.2 1484.5,266.8 1488.5,264.4 1492.5,261.1 1496.5,258.9 1500.5,256.8 1504.5,254.8 1508.5,252.8 1512.5,250.8 1516.5,248.5 1520.5,245.2 1524.5,242.5 1528.5,240.7 1532.5,239.1 1536.5,238.1 1540.5,237.0 1544.5,235.9 1548.5,234.4 1552.5,233.1 1556.5,231.7 1560.5,229.0 1564.5,226.7 1568.5,224.7 1572.5,222.0 1576.5,219.5 1580.5,218.2 1584.5,217.1 1588.5,215.9 1592.5,214.7 1596.5,213.4 1600.5,212.3 1604.5,211.3 1608.5,210.0 1612.5,209.0 1616.5,207.7 1620.5,205.7 1624.5,205.7 1628.5,205.2 1632.5,204.5 1636.5,202.7 1640.5,200.7 1644.5,199.0 1648.5,198.0 1652.5,197.0 1656.5,195.9 1660.5,195.1 1664.5,194.7 1668.5,194.4 1672.5,194.1 1676.5,194.1 1680.5,194.1 1684.5,194.8 1688.5,195.6 1692.5,196.0 1696.5,196.1 1700.5,196.2 1704.5,196.7 1708.5,197.6 1712.5,197.3 1716.5,197.1 1720.5,197.0 1724.5,196.7 1728.5,196.5 1732.5,196.2 1736.5,195.5 1740.5,194.6 1744.5,193.9 1748.5,192.7 1752.5,191.8 1756.5,191.0" fill="none" stroke="#ff0000" stroke-width="1"/>
<polyline points="4.5,105.4 8.5,105.8 12.5,105.9 16.5,106.1 20.5,106.7 24.5,107.1 28.5,107.4 32.5,107.9 36.5,108.2 40.5,108.6 44.5,109.0 48.5,109.0 52.5,109.2 56.5,108.8 60.5,108.0 64.5,106.9 68.5,106.1 72.5,105.3 76.5,104.9 80.5,104.3 84.5,104.0 88.5,103.8 92.5,103.5 96.5,103.8 100.5,104.1 104.5,104.2 108.5,104.3 112.5,104.3 116.5,104.3 120.5,104.9 124.5,105.5 128.5,106.1 132.5,106.7 136.5,107.3 140.5,107.9 144.5,108.2 148.5,109.1 152.5,109.9 156.5,110.4 160.5,110.6 164.5,110.5 168.5,110.7 172.5,110.6 176.5,110.8 180.5,112.5 184.5,114.3 188.5,116.0 192.5,118.4 196.5,121.1 200.5,123.9 204.5,126.3 208.5,128.2 212.5,130.2 216.5,132.1 220.5,133.9 224.5,135.1 228.5,136.5 232.5,138.6 236.5,140.8 240.5,143.3 244.5,146.1 248.5,149.0 252.5,152.0 256.5,155.9 260.5,159.1 264.5,162.1 268.5,164.5 272.5,165.7 276.5,166.8 280.5,167.1 284.5,166.7 288.5,166.3 292.5,166.6 296.5,166.7 300.5,164.8 304.5,164.6 308.5,164.8 312.5,165.5 316.5,166.3 320.5,167.6 324.5,169.5 328.5,170.8 332.5,171.5 336.5,172.4 340.5,173.6 344.5,174.3 348.5,176.3 352.5,178.6 356.5,180.6 360.5,183.2 364.5,185.1 368.5,187.0 372.5,189.1 376.5,191.6 380.5,194.3 384.5,196.8 388.5,198.8 392.5,200.6 396.5,202.1 400.5,204.0 404.5,205.8 408.5,208.1 412.5,210.7 416.5,213.9 420.5,217.8 424.5,221.5 428.5,225.2 432.5,229.4 436.5,234.3 440.5,240.8 444.5,244.9 448.5,249.0 452.5,251.8 456.5,254.5 460.5,256.7 464.5,259.4 468.5,261.1 472.5,262.2 476.5,263.7 480.5,264.8 484.5,266.5 488.5,267.2 492.5,267.4 496.5,267.2 500.5,267.2 504.5,267.5 508.5,268.2 512.5,269.0 516.5,270.0 520.5,270.6 524.5,271.9 528.5,272.5 532.5,272.4 536.5,271.9 540.5,269.0 544.5,267.5 548.5,265.6 552.5,263.7 556.5,261.8 560.5,260.5 564.5,259.6 568.5,259.2 572.5,257.9 576.5,256.2 580.5,255.0 584.5,254.3 588.5,254.2 592.5,254.6 596.5,254.7 600.5,254.8 604.5,255.4 608.5,255.9 612.5,257.0 616.5,258.1 620.5,260.1 624.5,262.1 628.5,264.7 632.5,267.0 636.5,268.9 640.5,271.0 644.5,272.7 648.5,274.9 652.5,277.5 656.5,280.3 660.5,282.9 664.5,285.3 668.5,287.9 672.5,291.1 676.5,293.8 680.5,296.3 684.5,299.4 688.5,302.3 692.5,304.9 696.5,307.1 700.5,308.9 704.5,311.1 708.5,313.4 712.5,315.4 716.5,317.2 720.5,318.1 724.5,319.2 728.5,320.8 732.5,321.4 736.5,322.3 740.5,323.0 744.5,324.4 748.5,325.8 752.5,326.9 756.5,327.6 760.5,328.6 764.5,329.9 768.5,330.5 772.5,330.8 776.5,331.2 780.5,331.9 784.5,332.0 788.5,331.8 792.5,331.9 796.5,331.6 800.5,331.1 804.5,330.9 808.5,330.2 812.5,329.8 816.5,329.1 820.5,328.0 824.5,326.3 828.5,324.8 832.5,323.3 836.5,322.0 840.5,320.7 844.5,319.6 848.5,318.7 852.5,317.6 856.5,317.2 860.5,316.6 864.5,316.5 868.5,316.4 872.5,316.0 876.5,316.1 880.5,316.7 884.5,317.8 888.5,318.7 892.5,319.8 896.5,320.1 900.5,320.0 904.5,319.7 908.5,319.3 912.5,319.0 916.5,318.8 920.5,318.2 924.5,317.7 928.5,317.7 932.5,317.9 936.5,318.3 940.5,318.9 944.5,319.6 948.5,320.1 952.5,321.2 956.5,322.1 960.5,323.4 964.5,324.2 968.5,325.7 972.5,327.3 976.5,328.9 980.5,330.7 984.5,332.5 988.5,335.1 992.5,337.5 996.5,339.5 1000.5,341.0 1004.5,342.8 1008.5,344.8 1012.5,346.5 1016.5,348.1 1020.5,349.9 1024.5,351.8 1028.5,353.9 1032.5,356.6 1036.5,359.1 1040.5,363.4 1044.5,367.2 1048.5,370.0 1052.5,372.4 1056.5,375.0 1060.5,376.8 1064.5,378.9 1068.5,380.6 1072.5,381.7 1076.5,382.4 1080.5,383.3 1084.5,384.4 1088.5,385.1 1092.5,385.3 1096.5,385.1 1100.5,384.6 1104.5,383.8 1108.5,383.2 1112.5,382.2 1116.5,381.4 1120.5,380.2 1124.5,378.9 1128.5,377.9 1132.5,377.3 1136.5,376.4 1140.5,375.5 1144.5,374.1 1148.5,372.7 1152.5,371.2 1156.5,370.0 1160.5,369.0 1164.5,368.0 1168.5,367.2 1172.5,366.0 1176.5,364.6 1180.5,363.4 1184.5,362.8 1188.5,362.5 1192.5,362.3 1196.5,362.0 1200.5,361.7 1204.5,360.8 1208.5,360.0 1212.5,359.3 1216.5,358.5 1220.5,357.6 1224.5,356.8 1228.5,355.9 1232.5,355.7 1236.5,355.6 1240.5,355.6 1244.5,355.3 1248.5,355.7 1252.5,355.7 1256.5,355.4 1260.5,354.4 1264.5,353.4 1268.5,352.4 1272.5,351.6 1276.5,351.0 1280.5,350.5 1284.5,349.7 1288.5,349.2 1292.5,348.3 1296.5,347.1 1300.5,346.2 1304.5,345.0 1308.5,343.4 1312.5,342.1 1316.5,340.2 1320.5,338.8 1324.5,337.9 1328.5,337.2 1332.5,336.6 1336.5,335.8 1340.5,334.4 1344.5,333.3 1348.5,332.4 1352.5,331.7 1356.5,331.1 1360.5,330.5 1364.5,329.9 1368.5,329.0 1372.5,328.4 1376.5,327.4 1380.5,325.9 1384.5,324.7 1388.5,324.0 1392.5,323.6 1396.5,323.0 1400.5,322.7 1404.5,322.5 1408.5,321.4 1412.5,319.5 1416.5,317.7 1420.5,316.2 1424.5,314.8 1428.5,313.0 1432.5,311.5 1436.5,310.0 1440.5,308.6 1444.5,307.1 1448.5,305.6 1452.5,304.0 1456.5,301.8 1460.5,300.0 1464.5,298.3 1468.5,296.8 1472.5,295.0 1476.5,293.4 1480.5,291.5 1484.5,289.6 1488.5,287.7 1492.5,285.2 1496.5,283.4 1500.5,281.7 1504.5,279.9 1508.5,278.2 1512.5,276.6 1516.5,274.6 1520.5,272.1 1524.5,269.9 1528.5,268.3 1532.5,266.8 1536.5,265.7 1540.5,264.5 1544.5,263.3 1548.5,261.8 1552.5,260.5 1556.5,259.1 1560.5,256.9 1564.5,255.0 1568.5,253.2 1572.5,251.0 1576.5,248.9 1580.5,247.6 1584.5,246.3 1588.5,245.0 1592.5,243.7 1596.5,242.4 1600.5,241.1 1604.5,239.9 1608.5,238.6 1612.5,237.4 1616.5,236.1 1620.5,234.3 1624.5,233.7 1628.5,232.9 1632.5,231.9 1636.5,230.3 1640.5,228.5 1644.5,227.0 1648.5,225.8 1652.5,224.6 1656.5,223.4 1660.5,222.4 1664.5,221.6 1668.5,220.9 1672.5,220.2 1676.5,219.7 1680.5,219.2 1684.5,219.1 1688.5,219.1 1692.5,218.9 1696.5,218.5 1700.5,218.1 1704.5,218.0 1708.5,218.1 1712.5,217.5 1716.5,217.0 1720.5,216.5 1724.5,216.0 1728.5,215.5 1732.5,214.9 1736.5,214.1 1740.5,213.2 1744.5,212.4 1748.5,211.3 1752.5,210.4 1756.5,209.6" fill="none" stroke="#8b4513" stroke-width="2"/>
</g>
<rect x="3" y="1" width="1764" height="1" fill="#000"/>
<rect x="3" y="1" width="1" height="594" fill="#000"/>
<rect x="3" y="594" width="1764" height="1" fill="#000"/>
<rect x="3" y="596" width="1764" height="1" fill="#000"/>
<rect x="3" y="596" width="1" height="192" fill="#000"/>
<rect x="3" y="787" width="1764" height="1" fill="#000"/>
<rect x="3" y="789" width="1764" height="1" fill="#000"/>
<rect x="3" y="789" width="1" height="22" fill="#000"/>
<rect x="3" y="810" width="1764" height="1" fill="#000"/>
<rect x="1766" y="1" width="1" height="787" fill="#000"/>
<rect x="1766" y="789" width="1" height="22" fill="#000"/>
<g clip-path="url(#ci)">
<polyline points="4.5,689.2 8.5,699.6 12.5,710.0 16.5,720.1 20.5,730.1 24.5,738.3 28.5,746.4 32.5,754.0 36.5,761.6 40.5,767.5 44.5,773.3 48.5,776.8 52.5,778.4 56.5,778.4 60.5,776.8 64.5,773.3 68.5,769.8 72.5,766.9 76.5,764.0 80.5,761.0 84.5,758.1 88.5,756.4 92.5,754.6 96.5,753.1 100.5,751.6 104.5,749.0 108.5,746.4 112.5,744.3 116.5,742.2 120.5,741.8 124.5,741.3 128.5,740.6 132.5,739.9 136.5,739.1 140.5,738.3 144.5,736.6 148.5,738.3 152.5,739.8 156.5,741.3 160.5,738.6 164.5,735.9 168.5,732.4 172.5,728.9 176.5,726.4 180.5,724.9 184.5,725.4 188.5,726.1 192.5,727.2 196.5,728.1 200.5,728.7 204.5,731.0 208.5,736.8 212.5,743.8 216.5,748.2 220.5,750.8 224.5,753.0 228.5,757.8 232.5,761.5 236.5,764.9 240.5,768.3 244.5,771.6 248.5,774.6 252.5,777.5 256.5,778.8 260.5,780.2 264.5,780.6 268.5,780.4 272.5,779.3 276.5,777.7 280.5,775.1 284.5,771.7 288.5,768.1 292.5,764.8 296.5,761.3 300.5,750.6 304.5,747.7 308.5,744.4 312.5,741.4 316.5,738.4 320.5,736.4 324.5,735.6 328.5,734.2 332.5,730.8 336.5,727.7 340.5,725.1 344.5,721.2 348.5,720.6 352.5,720.1 356.5,720.0 360.5,720.6 364.5,719.4 368.5,718.5 372.5,717.6 376.5,717.4 380.5,717.4 384.5,717.4 388.5,718.2 392.5,718.9 396.5,718.2 400.5,721.0 404.5,724.1 408.5,727.9 412.5,731.7 416.5,734.3 420.5,737.2 424.5,739.8 428.5,742.2 432.5,743.3 436.5,745.0 440.5,747.7 444.5,750.3 448.5,752.9 452.5,755.9 456.5,759.9 460.5,764.3 464.5,770.1 468.5,774.3 472.5,777.1 476.5,778.2 480.5,777.4 484.5,777.0 488.5,774.6 492.5,770.0 496.5,764.0 500.5,758.1 504.5,752.6 508.5,749.0 512.5,745.2 516.5,741.9 520.5,737.6 524.5,734.9 528.5,730.1 532.5,721.9 536.5,712.8 540.5,702.1 544.5,691.8 548.5,681.9 552.5,672.3 556.5,664.7 560.5,658.2 564.5,651.9 568.5,647.9 572.5,641.7 576.5,636.3 580.5,631.5 584.5,628.6 588.5,626.7 592.5,626.1 596.5,623.3 600.5,620.6 604.5,618.3 608.5,616.8 612.5,617.2 616.5,619.6 620.5,624.6 624.5,630.4 628.5,638.2 632.5,645.4 636.5,652.5 640.5,660.5 644.5,668.3 648.5,677.4 652.5,687.8 656.5,698.5 660.5,708.1 664.5,716.8 668.5,724.5 672.5,733.0 676.5,738.7 680.5,743.8 684.5,748.9 688.5,753.6 692.5,758.1 696.5,761.4 700.5,763.7 704.5,765.3 708.5,767.3 712.5,769.0 716.5,770.7 720.5,771.0 724.5,771.7 728.5,772.3 732.5,771.2 736.5,770.3 740.5,767.8 744.5,766.2 748.5,763.9 752.5,761.1 756.5,756.8 760.5,753.4 764.5,750.5 768.5,745.4 772.5,739.5 776.5,733.3 780.5,728.0 784.5,721.0 788.5,713.6 792.5,706.0 796.5,698.0 800.5,688.9 804.5,680.2 808.5,670.2 812.5,659.9 816.5,649.2 820.5,640.0 824.5,631.3 828.5,626.0 832.5,621.4 836.5,618.9 840.5,616.0 844.5,612.7 848.5,609.9 852.5,606.0 856.5,604.4 860.5,603.8 864.5,604.2 868.5,604.6 872.5,605.0 876.5,606.2 880.5,608.6 884.5,613.5 888.5,618.4 892.5,623.9 896.5,626.7 900.5,628.9 904.5,630.9 908.5,632.7 912.5,635.0 916.5,637.7 920.5,639.3 924.5,641.4 928.5,643.3 932.5,647.7 936.5,652.6 940.5,657.5 944.5,664.1 948.5,669.1 952.5,678.4 956.5,687.3 960.5,697.7 964.5,704.8 968.5,715.0 972.5,725.3 976.5,732.9 980.5,739.5 984.5,746.2 988.5,753.2 992.5,758.4 996.5,762.4 1000.5,766.9 1004.5,770.3 1008.5,772.0 1012.5,775.1 1016.5,775.7 1020.5,777.5 1024.5,778.4 1028.5,778.6 1032.5,778.6 1036.5,778.6 1040.5,778.6 1044.5,778.6 1048.5,778.6 1052.5,778.5 1056.5,778.5 1060.5,778.2 1064.5,778.2 1068.5,777.8 1072.5,777.3 1076.5,775.5 1080.5,773.7 1084.5,772.7 1088.5,770.9 1092.5,768.3 1096.5,764.7 1100.5,760.2 1104.5,753.7 1108.5,747.3 1112.5,739.3 1116.5,731.4 1120.5,722.3 1124.5,712.7 1128.5,702.8 1132.5,694.2 1136.5,684.0 1140.5,674.5 1144.5,666.0 1148.5,658.7 1152.5,652.3 1156.5,645.5 1160.5,640.5 1164.5,635.7 1168.5,631.6 1172.5,627.2 1176.5,623.5 1180.5,620.1 1184.5,617.8 1188.5,616.5 1192.5,616.0 1196.5,616.6 1200.5,617.4 1204.5,617.1 1208.5,615.9 1212.5,615.9 1216.5,616.2 1220.5,615.9 1224.5,616.4 1228.5,616.4 1232.5,619.4 1236.5,623.2 1240.5,627.7 1244.5,631.2 1248.5,637.0 1252.5,642.7 1256.5,646.9 1260.5,647.6 1264.5,648.5 1268.5,648.7 1272.5,650.7 1276.5,653.4 1280.5,657.1 1284.5,659.1 1288.5,663.2 1292.5,664.2 1296.5,664.2 1300.5,664.4 1304.5,664.3 1308.5,664.0 1312.5,661.8 1316.5,661.0 1320.5,658.5 1324.5,657.0 1328.5,654.3 1332.5,652.7 1336.5,651.0 1340.5,650.0 1344.5,648.1 1348.5,646.7 1352.5,642.9 1356.5,638.6 1360.5,634.5 1364.5,632.6 1368.5,630.2 1372.5,629.6 1376.5,628.8 1380.5,625.7 1384.5,619.0 1388.5,616.8 1392.5,618.4 1396.5,619.6 1400.5,623.1 1404.5,627.5 1408.5,627.7 1412.5,626.5 1416.5,625.6 1420.5,625.2 1424.5,624.5 1428.5,623.2 1432.5,622.8 1436.5,621.8 1440.5,621.8 1444.5,621.9 1448.5,622.0 1452.5,622.0 1456.5,622.0 1460.5,622.0 1464.5,622.0 1468.5,621.1 1472.5,620.3 1476.5,618.8 1480.5,618.7 1484.5,618.7 1488.5,618.7 1492.5,618.7 1496.5,618.8 1500.5,618.4 1504.5,616.5 1508.5,615.6 1512.5,613.9 1516.5,611.6 1520.5,609.8 1524.5,607.6 1528.5,606.1 1532.5,605.3 1536.5,606.0 1540.5,607.0 1544.5,607.6 1548.5,606.7 1552.5,606.6 1556.5,606.6 1560.5,606.3 1564.5,606.1 1568.5,606.3 1572.5,606.1 1576.5,605.8 1580.5,606.3 1584.5,606.9 1588.5,607.3 1592.5,608.1 1596.5,608.8 1600.5,609.6 1604.5,610.8 1608.5,611.8 1612.5,613.0 1616.5,614.1 1620.5,613.9 1624.5,619.2 1628.5,622.0 1632.5,624.2 1636.5,624.8 1640.5,624.8 1644.5,625.5 1648.5,627.3 1652.5,629.1 1656.5,630.9 1660.5,633.1 1664.5,635.6 1668.5,639.4 1672.5,643.8 1676.5,651.5 1680.5,658.5 1684.5,669.3 1688.5,678.9 1692.5,688.0 1696.5,695.1 1700.5,695.7 1704.5,703.3 1708.5,711.2 1712.5,714.0 1716.5,717.9 1720.5,722.8 1724.5,723.1 1728.5,720.2 1732.5,716.8 1736.5,715.4 1740.5,715.0 1744.5,717.1 1748.5,717.4 1752.5,719.0 1756.5,718.8" fill="none" stroke="#00ff00" stroke-width="1"/>
<polyline points="4.5,760.0 8.5,760.5 12.5,760.9 16.5,760.7 20.5,760.2 24.5,760.0 28.5,760.2 32.5,760.5 36.5,759.5 40.5,758.8 44.5,761.9 48.5,761.9 52.5,761.4 56.5,755.8 60.5,744.1 64.5,725.4 68.5,706.7 72.5,688.0 76.5,675.1 80.5,664.6 84.5,652.9 88.5,642.4 92.5,634.2 96.5,630.7 100.5,631.4 104.5,635.1 108.5,641.7 112.5,645.3 116.5,646.4 120.5,661.8 124.5,683.0 128.5,699.9 132.5,715.5 136.5,730.3 140.5,743.7 144.5,753.0 148.5,765.7 152.5,772.5 156.5,779.8 160.5,778.1 164.5,769.8 168.5,763.8 172.5,753.4 176.5,747.5 180.5,747.5 184.5,747.5 188.5,747.6 192.5,747.7 196.5,747.7 200.5,753.2 204.5,755.8 208.5,757.6 212.5,758.8 216.5,757.6 220.5,756.0 224.5,756.0 228.5,757.3 232.5,759.4 236.5,760.8 240.5,763.5 244.5,766.1 248.5,767.8 252.5,769.6 256.5,771.0 260.5,771.9 264.5,772.0 268.5,770.9 272.5,762.0 276.5,749.2 280.5,728.1 284.5,709.3 288.5,692.1 292.5,676.4 296.5,667.0 300.5,659.4 304.5,653.0 308.5,647.6 312.5,642.6 316.5,640.4 320.5,643.7 324.5,648.3 328.5,644.7 332.5,640.5 336.5,642.8 340.5,647.6 344.5,653.4 348.5,664.6 352.5,679.0 356.5,694.2 360.5,713.7 364.5,731.3 368.5,750.4 372.5,766.2 376.5,774.2 380.5,780.3 384.5,782.0 388.5,781.5 392.5,779.9 396.5,775.5 400.5,773.8 404.5,771.7 408.5,771.0 412.5,771.0 416.5,771.0 420.5,771.0 424.5,772.1 428.5,772.9 432.5,773.6 436.5,773.6 440.5,773.7 444.5,773.6 448.5,773.3 452.5,771.7 456.5,770.4 460.5,766.8 464.5,766.3 468.5,760.9 472.5,749.6 476.5,741.5 480.5,729.0 484.5,724.4 488.5,714.9 492.5,696.0 496.5,676.6 500.5,657.1 504.5,641.1 508.5,626.9 512.5,618.1 516.5,612.7 520.5,609.7 524.5,612.6 528.5,613.2 532.5,612.8 536.5,612.2 540.5,612.1 544.5,612.2 548.5,612.3 552.5,612.5 556.5,612.5 560.5,613.4 564.5,614.7 568.5,616.5 572.5,618.4 576.5,617.4 580.5,620.4 584.5,623.6 588.5,628.7 592.5,638.8 596.5,644.6 600.5,647.2 604.5,656.6 608.5,665.6 612.5,683.3 616.5,699.4 620.5,720.3 624.5,736.7 628.5,754.6 632.5,768.2 636.5,777.0 640.5,782.6 644.5,781.2 648.5,781.8 652.5,782.4 656.5,782.9 660.5,782.8 664.5,783.1 668.5,783.7 672.5,784.3 676.5,784.3 680.5,784.1 684.5,784.1 688.5,783.8 692.5,783.3 696.5,782.1 700.5,777.1 704.5,774.9 708.5,773.4 712.5,767.6 716.5,760.5 720.5,743.8 724.5,728.9 728.5,717.1 732.5,700.0 736.5,687.2 740.5,670.9 744.5,660.1 748.5,643.5 752.5,630.9 756.5,623.5 760.5,620.9 764.5,620.3 768.5,616.5 772.5,613.7 776.5,613.9 780.5,616.0 784.5,615.1 788.5,615.1 792.5,615.2 796.5,615.2 800.5,614.9 804.5,614.7 808.5,614.6 812.5,614.9 816.5,615.0 820.5,615.0 824.5,610.8 828.5,608.4 832.5,608.6 836.5,604.9 840.5,604.2 844.5,602.7 848.5,604.1 852.5,605.5 856.5,609.0 860.5,611.8 864.5,619.6 868.5,627.5 872.5,635.0 876.5,647.3 880.5,666.7 884.5,687.8 888.5,705.7 892.5,721.6 896.5,736.0 900.5,744.7 904.5,747.2 908.5,754.9 912.5,753.9 916.5,761.5 920.5,758.7 924.5,752.3 928.5,747.6 932.5,744.1 936.5,740.5 940.5,738.0 944.5,735.3 948.5,732.3 952.5,732.3 956.5,729.0 960.5,730.6 964.5,726.6 968.5,732.8 972.5,736.5 976.5,738.7 980.5,743.6 984.5,750.1 988.5,761.4 992.5,771.4 996.5,780.2 1000.5,782.5 1004.5,783.3 1008.5,783.5 1012.5,782.8 1016.5,781.6 1020.5,780.2 1024.5,779.1 1028.5,778.7 1032.5,778.7 1036.5,778.7 1040.5,778.7 1044.5,778.7 1048.5,778.6 1052.5,777.9 1056.5,777.6 1060.5,775.8 1064.5,773.6 1068.5,770.7 1072.5,760.7 1076.5,742.5 1080.5,726.0 1084.5,714.5 1088.5,696.8 1092.5,686.4 1096.5,676.4 1100.5,666.5 1104.5,650.0 1108.5,639.1 1112.5,631.7 1116.5,622.9 1120.5,615.0 1124.5,608.0 1128.5,603.9 1132.5,601.8 1136.5,601.4 1140.5,601.1 1144.5,601.1 1148.5,601.1 1152.5,601.1 1156.5,601.4 1160.5,602.1 1164.5,604.0 1168.5,607.9 1172.5,609.1 1176.5,609.1 1180.5,609.7 1184.5,617.7 1188.5,630.5 1192.5,646.2 1196.5,661.5 1200.5,678.3 1204.5,685.2 1208.5,686.3 1212.5,696.2 1216.5,700.6 1220.5,701.4 1224.5,702.3 1228.5,694.5 1232.5,706.0 1236.5,706.7 1240.5,700.9 1244.5,746.6 1248.5,747.9 1252.5,748.3 1256.5,743.4 1260.5,726.4 1264.5,712.6 1268.5,701.1 1272.5,697.1 1276.5,687.9 1280.5,675.5 1284.5,659.5 1288.5,660.6 1292.5,657.0 1296.5,654.7 1300.5,651.3 1304.5,648.5 1308.5,639.5 1312.5,632.0 1316.5,628.4 1320.5,623.2 1324.5,616.9 1328.5,616.0 1332.5,616.8 1336.5,618.9 1340.5,618.7 1344.5,620.4 1348.5,624.1 1352.5,629.4 1356.5,635.8 1360.5,645.7 1364.5,653.2 1368.5,655.2 1372.5,657.3 1376.5,661.5 1380.5,662.3 1384.5,665.4 1388.5,673.7 1392.5,691.7 1396.5,705.2 1400.5,712.9 1404.5,727.4 1408.5,717.5 1412.5,699.0 1416.5,684.1 1420.5,666.4 1424.5,654.0 1428.5,646.0 1432.5,642.3 1436.5,642.1 1440.5,637.9 1444.5,629.6 1448.5,625.1 1452.5,620.8 1456.5,618.1 1460.5,615.9 1464.5,614.8 1468.5,613.5 1472.5,611.4 1476.5,610.6 1480.5,609.1 1484.5,607.8 1488.5,606.8 1492.5,606.2 1496.5,606.0 1500.5,607.3 1504.5,607.6 1508.5,608.4 1512.5,608.8 1516.5,606.4 1520.5,604.5 1524.5,605.1 1528.5,606.0 1532.5,606.5 1536.5,616.1 1540.5,625.2 1544.5,635.3 1548.5,637.9 1552.5,643.1 1556.5,647.0 1560.5,641.2 1564.5,640.9 1568.5,643.8 1572.5,643.8 1576.5,642.7 1580.5,648.1 1584.5,650.7 1588.5,653.2 1592.5,656.8 1596.5,645.7 1600.5,648.1 1604.5,654.2 1608.5,658.0 1612.5,663.9 1616.5,668.3 1620.5,661.3 1624.5,663.2 1628.5,660.6 1632.5,665.5 1636.5,665.9 1640.5,665.9 1644.5,668.6 1648.5,674.7 1652.5,679.9 1656.5,685.9 1660.5,694.4 1664.5,693.8 1668.5,696.0 1672.5,700.5 1676.5,700.7 1680.5,701.2 1684.5,711.9 1688.5,725.6 1692.5,733.8 1696.5,740.3 1700.5,745.2 1704.5,750.8 1708.5,757.2 1712.5,756.4 1716.5,754.2 1720.5,751.9 1724.5,744.3 1728.5,752.5 1732.5,755.0 1736.5,746.0 1740.5,732.5 1744.5,718.2 1748.5,697.1 1752.5,684.5 1756.5,669.7" fill="none" stroke="#ff0000" stroke-width="1"/>
<polyline points="4.5,775.7 8.5,771.0 12.5,764.0 16.5,755.8 20.5,734.8 24.5,713.7 28.5,690.3 32.5,672.8 36.5,704.8 40.5,741.8 44.5,732.4 48.5,687.8 52.5,633.1 56.5,632.4 60.5,621.2 64.5,605.4 68.5,610.2 72.5,614.9 76.5,629.2 80.5,651.3 84.5,683.0 88.5,727.3 92.5,779.6 96.5,781.2 100.5,779.6 104.5,774.8 108.5,766.9 112.5,752.7 116.5,730.5 120.5,733.7 124.5,735.2 128.5,735.2 132.5,754.2 136.5,764.1 140.5,772.1 144.5,743.6 148.5,743.6 152.5,742.0 156.5,740.4 160.5,697.2 164.5,664.0 168.5,640.2 172.5,620.9 176.5,634.7 180.5,676.3 184.5,720.6 188.5,752.3 192.5,776.0 196.5,782.4 200.5,784.3 204.5,781.2 208.5,765.3 212.5,743.2 216.5,713.1 220.5,675.1 224.5,618.1 228.5,610.2 232.5,641.8 236.5,686.2 240.5,743.2 244.5,757.4 248.5,773.2 252.5,782.8 256.5,787.5 260.5,785.9 264.5,781.2 268.5,752.3 272.5,695.3 276.5,650.9 280.5,622.8 284.5,607.0 288.5,597.5 292.5,602.2 296.5,610.2 300.5,610.2 304.5,626.0 308.5,652.9 312.5,709.9 316.5,754.2 320.5,762.2 324.5,766.9 328.5,781.2 332.5,776.4 336.5,762.2 340.5,743.2 344.5,700.9 348.5,709.0 352.5,714.9 356.5,741.6 360.5,765.3 364.5,771.7 368.5,762.2 372.5,760.6 376.5,762.2 380.5,762.2 384.5,760.6 388.5,752.7 392.5,719.4 396.5,695.7 400.5,692.7 404.5,669.3 408.5,640.8 412.5,696.9 416.5,741.2 420.5,770.1 424.5,779.9 428.5,775.7 432.5,776.4 436.5,780.3 440.5,780.8 444.5,775.7 448.5,768.9 452.5,711.9 456.5,672.3 460.5,640.2 464.5,626.0 468.5,610.2 472.5,608.6 476.5,610.2 480.5,611.8 484.5,621.2 488.5,616.5 492.5,613.3 496.5,611.8 500.5,613.3 504.5,622.8 508.5,632.7 512.5,662.8 516.5,705.6 520.5,740.4 524.5,773.2 528.5,754.2 532.5,697.2 536.5,652.9 540.5,619.7 544.5,617.9 548.5,610.9 552.5,612.0 556.5,613.3 560.5,637.1 564.5,670.3 568.5,714.7 572.5,762.2 576.5,713.1 580.5,724.2 584.5,733.7 588.5,744.8 592.5,744.8 596.5,754.2 600.5,765.3 604.5,781.2 608.5,774.8 612.5,774.8 616.5,773.2 620.5,773.2 624.5,773.2 628.5,784.3 632.5,782.8 636.5,778.0 640.5,771.7 644.5,738.4 648.5,732.1 652.5,732.1 656.5,741.6 660.5,747.9 664.5,766.9 668.5,776.4 672.5,775.0 676.5,775.0 680.5,769.8 684.5,769.3 688.5,760.5 692.5,758.1 696.5,721.4 700.5,664.4 704.5,630.8 708.5,659.2 712.5,637.1 716.5,622.8 720.5,622.8 724.5,624.4 728.5,629.2 732.5,621.2 736.5,609.9 740.5,611.3 744.5,641.8 748.5,678.2 752.5,714.9 756.5,692.5 760.5,692.5 764.5,749.5 768.5,705.6 772.5,670.7 776.5,623.7 780.5,631.9 784.5,632.4 788.5,623.7 792.5,616.7 796.5,614.1 800.5,613.9 804.5,620.2 808.5,615.5 812.5,619.0 816.5,623.7 820.5,620.2 824.5,613.7 828.5,613.2 832.5,613.7 836.5,616.9 840.5,632.7 844.5,651.7 848.5,696.1 852.5,735.6 856.5,781.6 860.5,780.0 864.5,781.2 868.5,779.6 872.5,774.8 876.5,774.8 880.5,778.0 884.5,779.6 888.5,778.0 892.5,776.4 896.5,760.6 900.5,732.1 904.5,689.3 908.5,632.3 912.5,610.2 916.5,610.2 920.5,610.2 924.5,610.2 928.5,654.5 932.5,711.5 936.5,744.8 940.5,763.8 944.5,774.8 948.5,778.0 952.5,782.8 956.5,781.2 960.5,781.2 964.5,772.9 968.5,772.9 972.5,772.9 976.5,774.4 980.5,776.0 984.5,776.0 988.5,782.4 992.5,782.8 996.5,779.6 1000.5,755.8 1004.5,741.6 1008.5,728.9 1012.5,701.6 1016.5,671.5 1020.5,645.5 1024.5,684.2 1028.5,741.2 1032.5,774.0 1036.5,773.3 1040.5,776.4 1044.5,782.8 1048.5,779.6 1052.5,762.2 1056.5,747.9 1060.5,703.6 1064.5,648.2 1068.5,624.4 1072.5,602.0 1076.5,601.5 1080.5,602.7 1084.5,612.0 1088.5,618.6 1092.5,618.6 1096.5,616.9 1100.5,616.7 1104.5,616.7 1108.5,614.4 1112.5,605.0 1116.5,603.9 1120.5,603.9 1124.5,604.3 1128.5,608.5 1132.5,640.2 1136.5,654.5 1140.5,658.1 1144.5,658.1 1148.5,648.6 1152.5,642.2 1156.5,629.6 1160.5,629.6 1164.5,646.6 1168.5,690.9 1172.5,719.4 1176.5,708.3 1180.5,694.1 1184.5,706.8 1188.5,716.2 1192.5,740.0 1196.5,755.4 1200.5,766.5 1204.5,752.3 1208.5,725.4 1212.5,685.8 1216.5,636.7 1220.5,620.9 1224.5,630.4 1228.5,631.5 1232.5,674.3 1236.5,731.3 1240.5,747.1 1244.5,750.3 1248.5,766.1 1252.5,772.9 1256.5,743.6 1260.5,688.1 1264.5,645.4 1268.5,626.4 1272.5,623.2 1276.5,631.1 1280.5,648.2 1284.5,671.9 1288.5,713.1 1292.5,724.7 1296.5,681.4 1300.5,651.3 1304.5,619.3 1308.5,608.2 1312.5,603.4 1316.5,603.4 1320.5,608.2 1324.5,643.0 1328.5,700.0 1332.5,730.5 1336.5,750.6 1340.5,727.3 1344.5,721.0 1348.5,708.3 1352.5,690.9 1356.5,672.8 1360.5,690.9 1364.5,719.4 1368.5,732.9 1372.5,737.6 1376.5,683.0 1380.5,638.7 1384.5,614.9 1388.5,622.8 1392.5,662.4 1396.5,700.0 1400.5,745.9 1404.5,764.7 1408.5,735.2 1412.5,695.7 1416.5,652.9 1420.5,633.9 1424.5,626.4 1428.5,621.2 1432.5,632.3 1436.5,652.9 1440.5,679.4 1444.5,711.4 1448.5,672.3 1452.5,626.0 1456.5,625.6 1460.5,627.2 1464.5,608.2 1468.5,614.9 1472.5,621.2 1476.5,637.7 1480.5,643.6 1484.5,644.8 1488.5,660.0 1492.5,623.7 1496.5,608.1 1500.5,622.6 1504.5,640.1 1508.5,655.3 1512.5,666.5 1516.5,658.8 1520.5,641.3 1524.5,642.4 1528.5,619.0 1532.5,652.9 1536.5,686.6 1540.5,727.7 1544.5,760.5 1548.5,760.9 1552.5,751.5 1556.5,725.8 1560.5,668.8 1564.5,626.0 1568.5,606.7 1572.5,605.5 1576.5,606.2 1580.5,633.9 1584.5,662.4 1588.5,702.0 1592.5,750.6 1596.5,748.3 1600.5,734.1 1604.5,730.9 1608.5,686.6 1612.5,651.7 1616.5,647.1 1620.5,647.1 1624.5,688.0 1628.5,716.1 1632.5,714.9 1636.5,698.5 1640.5,678.7 1644.5,650.1 1648.5,661.1 1652.5,672.8 1656.5,647.1 1660.5,674.0 1664.5,728.1 1668.5,779.2 1672.5,782.8 1676.5,782.8 1680.5,781.2 1684.5,784.3 1688.5,785.9 1692.5,776.8 1696.5,748.8 1700.5,723.1 1704.5,711.4 1708.5,710.2 1712.5,681.0 1716.5,657.1 1720.5,669.3 1724.5,679.8 1728.5,692.7 1732.5,636.6 1736.5,623.7 1740.5,621.8 1744.5,623.3 1748.5,613.0 1752.5,607.8 1756.5,609.9" fill="none" stroke="#00008b" stroke-width="1"/>
</g>
<path d="M5 616.5H1766" stroke="#000" stroke-width="1" stroke-dasharray="3 3" fill="none"/>
<path d="M5 768.5H1766" stroke="#000" stroke-width="1" stroke-dasharray="3 3" fill="none"/>
<defs><linearGradient id="gu" x1="0" y1="0" x2="1" y2="1"><stop offset="0" stop-color="#ff2a2a"/><stop offset="0.52" stop-color="#ff0d12"/><stop offset="0.56" stop-color="#e8000e"/><stop offset="1" stop-color="#e8000e"/></linearGradient><linearGradient id="gd" x1="1" y1="0" x2="0" y2="1"><stop offset="0" stop-color="#e8000e"/><stop offset="0.46" stop-color="#e8000e"/><stop offset="0.5" stop-color="#ff1418"/><stop offset="1" stop-color="#ff2a2a"/></linearGradient></defs>
<g clip-path="url(#cm)">
<polyline points="4.5,133.1 8.5,128.3 12.5,120.9 16.5,118.2 20.5,127.8 24.5,125.7 28.5,125.1 32.5,128.3 36.5,127.4 40.5,127.4 44.5,128.0 48.5,118.7 52.5,117.1 56.5,105.3 60.5,84.4 64.5,70.0 68.5,67.7 72.5,68.1 76.5,74.8 80.5,76.2 84.5,82.8 88.5,87.2 92.5,87.8 96.5,104.2 100.5,109.8 104.5,109.7 108.5,110.1 112.5,107.3 116.5,106.9 120.5,119.7 124.5,127.6 128.5,132.5 132.5,133.5 136.5,134.5 140.5,138.0 144.5,129.8 148.5,140.1 152.5,144.8 156.5,142.2 160.5,129.8 164.5,118.7 168.5,118.6 172.5,113.0 176.5,117.3 180.5,156.9 184.5,180.2 188.5,190.3 192.5,213.9 196.5,234.2 200.5,246.9 204.5,247.7 208.5,233.1 212.5,231.3 216.5,229.4 220.5,225.9 224.5,210.2 228.5,208.4 232.5,225.9 236.5,236.7 240.5,253.6 244.5,267.6 248.5,281.0 252.5,290.8 256.5,318.6 260.5,319.1 264.5,314.3 268.5,297.9 272.5,263.7 276.5,241.1 280.5,211.8 284.5,180.1 288.5,163.8 292.5,172.2 296.5,170.8 300.5,122.2 304.5,138.3 308.5,155.9 312.5,178.2 316.5,190.9 320.5,211.2 324.5,237.3 328.5,237.9 332.5,221.7 336.5,220.1 340.5,224.8 344.5,217.7 348.5,246.6 352.5,268.0 356.5,274.8 360.5,293.6 364.5,285.1 368.5,285.3 372.5,288.9 376.5,301.7 380.5,314.1 384.5,317.8 388.5,308.6 392.5,299.1 396.5,286.8 400.5,291.6 404.5,294.6 408.5,308.0 412.5,324.3 416.5,347.9 420.5,378.2 424.5,392.3 428.5,399.4 432.5,419.5 436.5,449.0 440.5,504.7 444.5,476.6 448.5,464.6 452.5,426.5 456.5,406.5 460.5,387.5 464.5,389.0 468.5,368.3 472.5,342.9 476.5,340.7 480.5,330.1 484.5,338.3 488.5,320.9 492.5,299.2 496.5,277.8 500.5,274.2 504.5,277.3 508.5,290.4 512.5,298.5 516.5,308.5 520.5,305.0 524.5,321.2 528.5,310.4 532.5,288.9 536.5,270.2 540.5,197.9 544.5,194.7 548.5,183.6 552.5,177.0 556.5,172.3 560.5,184.4 564.5,199.4 568.5,219.0 572.5,206.7 576.5,188.1 580.5,192.8 584.5,205.7 588.5,226.6 592.5,252.0 596.5,255.3 600.5,257.4 604.5,272.4 608.5,274.5 612.5,294.0 616.5,302.7 620.5,331.1 624.5,345.8 628.5,370.2 632.5,374.3 636.5,370.9 640.5,372.7 644.5,363.1 648.5,375.3 652.5,390.9 656.5,402.7 660.5,407.1 664.5,407.8 668.5,411.7 672.5,429.6 676.5,428.0 680.5,425.8 684.5,438.1 688.5,441.3 692.5,437.9 696.5,426.7 700.5,413.1 704.5,415.8 708.5,423.2 712.5,416.8 716.5,412.7 720.5,387.1 724.5,381.8 728.5,389.6 732.5,371.1 736.5,369.8 740.5,362.6 744.5,378.1 748.5,386.3 752.5,385.4 756.5,372.4 760.5,375.0 764.5,385.2 768.5,372.4 772.5,358.4 776.5,355.5 780.5,360.0 784.5,349.2 788.5,335.4 792.5,336.4 796.5,327.5 800.5,315.0 804.5,319.2 808.5,306.4 812.5,308.4 816.5,303.0 820.5,286.7 824.5,266.1 828.5,257.8 832.5,253.7 836.5,254.1 840.5,255.8 844.5,261.6 848.5,267.1 852.5,266.3 856.5,280.4 860.5,283.4 864.5,298.5 868.5,304.0 872.5,301.7 876.5,311.1 880.5,326.8 884.5,350.2 888.5,358.3 892.5,364.4 896.5,350.5 900.5,331.5 904.5,320.0 908.5,308.7 912.5,306.1 916.5,308.3 920.5,298.4 924.5,296.5 928.5,305.0 932.5,317.7 936.5,327.1 940.5,337.8 944.5,347.2 948.5,345.3 952.5,361.4 956.5,363.0 960.5,376.2 964.5,370.4 968.5,383.4 972.5,396.5 976.5,401.0 980.5,411.2 984.5,417.4 988.5,438.4 992.5,448.0 996.5,444.7 1000.5,428.6 1004.5,430.1 1008.5,437.8 1012.5,434.6 1016.5,431.1 1020.5,433.3 1024.5,439.9 1028.5,449.7 1032.5,470.6 1036.5,476.0 1040.5,526.8 1044.5,539.1 1048.5,525.8 1052.5,507.7 1056.5,505.6 1060.5,487.0 1064.5,482.8 1068.5,474.1 1072.5,455.8 1076.5,437.2 1080.5,431.8 1084.5,434.2 1088.5,428.8 1092.5,412.2 1096.5,393.8 1100.5,376.7 1104.5,360.1 1108.5,355.8 1112.5,344.6 1116.5,343.6 1120.5,331.5 1124.5,324.0 1128.5,325.8 1132.5,337.6 1136.5,334.6 1140.5,331.0 1144.5,319.3 1148.5,310.4 1152.5,304.9 1156.5,307.7 1160.5,311.6 1164.5,315.6 1168.5,322.5 1172.5,315.5 1176.5,303.0 1180.5,304.3 1184.5,318.4 1188.5,332.9 1192.5,342.2 1196.5,344.9 1200.5,346.7 1204.5,332.1 1208.5,325.3 1212.5,325.9 1216.5,322.7 1220.5,316.6 1224.5,318.0 1228.5,314.3 1232.5,330.9 1236.5,340.7 1240.5,346.1 1244.5,343.8 1248.5,359.6 1252.5,357.1 1256.5,349.3 1260.5,327.4 1264.5,316.9 1268.5,308.2 1272.5,311.9 1276.5,315.2 1280.5,319.8 1284.5,316.7 1288.5,319.1 1292.5,312.3 1296.5,300.4 1300.5,299.4 1304.5,294.0 1308.5,279.7 1312.5,276.6 1316.5,262.6 1320.5,267.0 1324.5,279.3 1328.5,289.9 1332.5,299.7 1336.5,297.6 1340.5,280.5 1344.5,280.0 1348.5,285.3 1352.5,290.9 1356.5,294.7 1360.5,299.1 1364.5,299.8 1368.5,292.6 1372.5,294.1 1376.5,285.3 1380.5,269.4 1384.5,267.9 1388.5,278.2 1392.5,289.9 1396.5,292.7 1400.5,300.1 1404.5,306.3 1408.5,285.9 1412.5,255.7 1416.5,243.1 1420.5,242.8 1424.5,242.6 1428.5,234.1 1432.5,235.8 1436.5,237.1 1440.5,237.3 1444.5,233.9 1448.5,234.2 1452.5,228.9 1456.5,212.2 1460.5,210.8 1464.5,212.7 1468.5,216.1 1472.5,212.3 1476.5,212.9 1480.5,204.2 1484.5,200.8 1488.5,197.2 1492.5,179.3 1496.5,186.4 1500.5,192.0 1504.5,192.7 1508.5,193.6 1512.5,193.1 1516.5,186.8 1520.5,166.6 1524.5,164.6 1528.5,176.5 1532.5,184.5 1536.5,197.0 1540.5,200.3 1544.5,201.9 1548.5,196.2 1552.5,194.8 1556.5,193.7 1560.5,170.6 1564.5,164.5 1568.5,165.0 1572.5,153.8 1576.5,149.6 1580.5,165.6 1584.5,175.5 1588.5,177.0 1592.5,179.3 1596.5,176.9 1600.5,177.2 1604.5,180.3 1608.5,176.4 1612.5,178.0 1616.5,173.2 1620.5,159.4 1624.5,182.4 1628.5,187.5 1632.5,185.5 1636.5,167.5 1640.5,154.5 1644.5,152.0 1648.5,159.2 1652.5,163.4 1656.5,163.9 1660.5,167.2 1664.5,175.4 1668.5,179.9 1672.5,183.2 1676.5,188.9 1680.5,191.2 1684.5,203.8 1688.5,210.7 1692.5,210.1 1696.5,204.3 1700.5,201.4 1704.5,206.9 1708.5,215.7 1712.5,202.1 1716.5,195.8 1720.5,194.7 1724.5,192.6 1728.5,191.5 1732.5,188.5 1736.5,182.5 1740.5,175.5 1744.5,173.0 1748.5,165.3 1752.5,166.4 1756.5,166.9" fill="none" stroke="#0000ff" stroke-width="1"/>
<polyline points="4.5,118.9 8.5,120.4 12.5,118.1 16.5,117.2 20.5,124.0 24.5,123.8 28.5,124.1 32.5,126.5 36.5,126.5 40.5,126.8 44.5,127.4 48.5,121.4 52.5,119.5 56.5,110.8 60.5,95.0 64.5,81.9 68.5,76.4 72.5,73.8 76.5,76.3 80.5,76.7 84.5,81.0 88.5,84.5 92.5,85.8 96.5,97.4 100.5,103.4 104.5,105.4 108.5,107.1 112.5,106.3 116.5,106.3 120.5,115.1 124.5,121.9 128.5,127.1 132.5,129.6 136.5,131.5 140.5,134.9 144.5,130.4 148.5,137.1 152.5,141.2 156.5,140.7 160.5,132.9 164.5,124.5 168.5,122.5 172.5,117.5 176.5,118.8 180.5,144.7 184.5,164.3 188.5,176.4 192.5,196.7 196.5,216.0 200.5,230.5 204.5,236.5 208.5,230.5 212.5,230.2 216.5,229.3 220.5,227.0 224.5,216.2 228.5,213.0 232.5,223.1 236.5,231.3 240.5,244.3 244.5,256.7 248.5,269.3 252.5,279.7 256.5,302.0 260.5,307.8 264.5,308.4 268.5,299.4 272.5,276.1 276.5,256.9 280.5,232.1 284.5,204.2 288.5,185.3 292.5,183.7 296.5,179.0 300.5,143.8 304.5,147.4 308.5,156.1 312.5,170.9 316.5,181.8 320.5,198.3 324.5,220.1 328.5,226.2 332.5,219.3 336.5,219.0 340.5,222.5 344.5,218.5 348.5,237.5 352.5,254.8 356.5,263.7 360.5,280.0 364.5,278.8 368.5,281.0 372.5,284.9 376.5,294.7 380.5,305.3 384.5,310.7 388.5,307.0 392.5,301.2 396.5,292.3 400.5,293.7 404.5,295.0 408.5,303.8 412.5,316.0 416.5,334.5 420.5,359.2 424.5,375.0 428.5,385.5 432.5,403.5 436.5,428.5 440.5,472.5 444.5,464.5 448.5,460.5 452.5,436.5 456.5,419.8 460.5,402.7 464.5,398.6 468.5,381.6 472.5,360.2 476.5,353.0 480.5,341.8 484.5,343.4 488.5,330.1 492.5,312.6 496.5,293.9 500.5,286.1 504.5,284.2 508.5,290.6 512.5,295.9 516.5,303.5 520.5,302.8 524.5,314.4 528.5,309.4 532.5,295.4 536.5,280.8 540.5,229.0 544.5,216.5 548.5,201.8 552.5,191.4 556.5,183.4 560.5,187.8 564.5,196.7 568.5,210.6 572.5,205.3 576.5,193.3 580.5,194.7 584.5,202.6 588.5,217.6 592.5,237.6 596.5,244.5 600.5,249.5 604.5,262.2 608.5,267.0 612.5,282.5 616.5,292.1 620.5,314.6 624.5,329.9 628.5,351.4 632.5,360.5 636.5,362.8 640.5,366.7 644.5,362.3 648.5,370.7 652.5,382.6 656.5,393.3 660.5,399.3 664.5,402.4 668.5,406.8 672.5,420.3 676.5,422.4 680.5,422.8 684.5,432.0 688.5,436.2 692.5,435.6 696.5,428.9 700.5,419.1 704.5,418.9 708.5,422.8 712.5,418.7 716.5,415.3 720.5,397.4 724.5,390.4 728.5,392.8 732.5,379.3 736.5,375.7 740.5,369.0 744.5,377.2 748.5,382.9 752.5,383.5 756.5,375.5 760.5,376.1 764.5,382.6 768.5,374.9 772.5,364.8 776.5,360.7 780.5,362.0 784.5,354.1 788.5,343.3 792.5,341.3 796.5,333.7 800.5,323.3 804.5,323.4 808.5,313.4 812.5,312.4 816.5,307.5 820.5,295.1 824.5,278.6 828.5,268.9 832.5,262.4 836.5,259.8 840.5,259.0 844.5,261.8 848.5,265.4 852.5,265.4 856.5,275.1 860.5,278.9 864.5,290.4 868.5,296.8 872.5,297.7 876.5,305.3 880.5,317.7 884.5,336.3 888.5,346.4 892.5,354.4 896.5,348.4 900.5,336.5 904.5,327.1 908.5,317.3 912.5,312.7 916.5,311.9 920.5,304.1 924.5,300.9 928.5,305.1 932.5,313.6 936.5,321.2 940.5,330.3 944.5,339.0 948.5,340.5 952.5,352.9 956.5,356.7 960.5,367.7 964.5,366.6 968.5,376.6 972.5,387.5 976.5,393.5 980.5,402.9 984.5,409.7 988.5,426.3 992.5,436.7 996.5,438.3 1000.5,429.7 1004.5,430.3 1008.5,435.4 1012.5,434.1 1016.5,431.9 1020.5,433.1 1024.5,437.6 1028.5,444.9 1032.5,460.4 1036.5,467.4 1040.5,504.1 1044.5,519.9 1048.5,517.4 1052.5,508.1 1056.5,506.6 1060.5,493.9 1064.5,488.8 1068.5,481.0 1072.5,466.5 1076.5,450.5 1080.5,442.5 1084.5,440.5 1088.5,434.8 1092.5,421.7 1096.5,406.3 1100.5,390.7 1104.5,375.0 1108.5,367.1 1112.5,355.9 1116.5,351.5 1120.5,340.8 1124.5,332.7 1128.5,331.0 1132.5,337.1 1136.5,335.3 1140.5,332.7 1144.5,324.3 1148.5,316.7 1152.5,311.0 1156.5,310.8 1160.5,312.4 1164.5,314.7 1168.5,319.7 1172.5,315.9 1176.5,307.5 1180.5,306.8 1184.5,315.4 1188.5,326.1 1192.5,334.6 1196.5,338.9 1200.5,342.1 1204.5,333.9 1208.5,328.8 1212.5,328.0 1216.5,325.2 1220.5,320.3 1224.5,320.0 1228.5,316.8 1232.5,327.1 1236.5,334.9 1240.5,340.4 1244.5,340.8 1248.5,352.4 1252.5,353.1 1256.5,349.2 1260.5,334.6 1264.5,325.3 1268.5,316.7 1272.5,316.3 1276.5,317.0 1280.5,319.5 1284.5,317.5 1288.5,318.8 1292.5,314.4 1296.5,305.8 1300.5,303.3 1304.5,298.4 1308.5,287.4 1312.5,282.8 1316.5,271.4 1320.5,271.4 1324.5,278.1 1328.5,285.6 1332.5,293.5 1336.5,294.2 1340.5,284.0 1344.5,282.5 1348.5,285.2 1352.5,288.9 1356.5,292.1 1360.5,295.9 1364.5,297.4 1368.5,293.5 1372.5,294.1 1376.5,288.3 1380.5,276.7 1384.5,273.3 1388.5,278.4 1392.5,286.1 1396.5,289.2 1400.5,295.3 1404.5,301.0 1408.5,289.2 1412.5,268.0 1416.5,255.5 1420.5,251.1 1424.5,248.3 1428.5,240.7 1432.5,239.6 1436.5,239.2 1440.5,238.7 1444.5,235.9 1448.5,235.5 1452.5,231.5 1456.5,219.5 1460.5,216.2 1464.5,215.6 1468.5,216.9 1472.5,214.1 1476.5,213.9 1480.5,207.8 1484.5,204.3 1488.5,200.7 1492.5,187.7 1496.5,189.6 1500.5,192.2 1504.5,192.7 1508.5,193.3 1512.5,193.0 1516.5,188.8 1520.5,174.7 1524.5,170.7 1528.5,176.6 1532.5,181.9 1536.5,191.1 1540.5,195.2 1544.5,198.0 1548.5,195.5 1552.5,194.8 1556.5,194.1 1560.5,178.5 1564.5,171.9 1568.5,169.7 1572.5,160.7 1576.5,155.6 1580.5,164.2 1584.5,171.3 1588.5,173.7 1592.5,176.3 1596.5,175.7 1600.5,176.3 1604.5,178.7 1608.5,176.6 1612.5,177.6 1616.5,174.6 1620.5,164.9 1624.5,178.4 1628.5,183.1 1632.5,183.2 1636.5,172.0 1640.5,161.8 1644.5,157.7 1648.5,160.6 1652.5,162.9 1656.5,163.5 1660.5,165.8 1664.5,171.7 1668.5,176.0 1672.5,179.5 1676.5,184.5 1680.5,187.5 1684.5,197.2 1688.5,203.9 1692.5,205.8 1696.5,203.4 1700.5,201.7 1704.5,205.3 1708.5,211.7 1712.5,204.0 1716.5,199.2 1720.5,197.3 1724.5,195.0 1728.5,193.5 1732.5,190.8 1736.5,186.1 1740.5,180.2 1744.5,177.0 1748.5,170.5 1752.5,169.5 1756.5,168.8" fill="none" stroke="#0000ff" stroke-width="1"/>
<polyline points="4.5,106.0 8.5,109.9 12.5,110.7 16.5,111.8 20.5,117.5 24.5,118.8 28.5,120.1 32.5,122.6 36.5,123.5 40.5,124.4 44.5,125.3 48.5,121.8 52.5,120.4 56.5,114.4 60.5,103.1 64.5,92.5 68.5,86.5 72.5,82.5 76.5,82.3 80.5,81.2 84.5,83.1 88.5,84.9 92.5,85.7 96.5,93.5 100.5,98.4 104.5,100.8 108.5,103.0 112.5,103.3 116.5,104.0 120.5,110.4 124.5,115.9 128.5,120.7 132.5,123.8 136.5,126.4 140.5,129.8 144.5,127.9 148.5,132.9 152.5,136.6 156.5,137.3 160.5,132.9 164.5,127.2 168.5,125.3 172.5,121.3 176.5,121.4 180.5,138.1 184.5,152.6 188.5,163.3 192.5,179.8 196.5,196.4 200.5,210.4 204.5,218.9 208.5,218.8 212.5,221.2 216.5,222.6 220.5,222.6 224.5,216.3 228.5,214.1 232.5,220.7 236.5,226.6 240.5,236.4 244.5,246.4 248.5,257.1 252.5,266.7 256.5,284.5 260.5,292.2 264.5,296.1 268.5,292.8 272.5,278.8 276.5,265.4 280.5,247.0 284.5,225.1 288.5,207.8 292.5,201.8 296.5,194.6 300.5,167.7 304.5,164.8 308.5,166.7 312.5,174.2 316.5,180.7 320.5,192.0 324.5,207.9 328.5,214.7 332.5,212.7 336.5,214.0 340.5,217.4 344.5,215.9 348.5,229.1 352.5,242.5 356.5,251.2 360.5,264.8 364.5,267.4 368.5,271.4 372.5,276.1 376.5,284.6 380.5,293.9 384.5,300.1 388.5,299.9 392.5,297.6 396.5,292.5 400.5,293.4 404.5,294.3 408.5,300.3 412.5,309.3 416.5,323.1 420.5,342.1 424.5,356.4 428.5,367.5 432.5,383.5 436.5,404.6 440.5,439.3 444.5,441.3 448.5,443.8 452.5,431.5 456.5,421.5 460.5,409.7 464.5,405.5 468.5,392.6 472.5,375.9 476.5,367.6 480.5,356.9 484.5,354.6 488.5,343.2 492.5,328.6 496.5,312.6 500.5,303.2 504.5,298.2 508.5,299.4 512.5,301.0 516.5,304.9 520.5,304.1 524.5,311.5 528.5,308.9 532.5,299.7 536.5,289.0 540.5,252.6 544.5,239.1 548.5,224.3 552.5,212.3 556.5,202.4 560.5,201.1 564.5,204.0 568.5,211.7 572.5,207.9 576.5,199.3 580.5,198.9 584.5,203.3 588.5,213.1 592.5,227.4 596.5,234.3 600.5,239.9 604.5,250.5 608.5,256.3 612.5,269.0 616.5,278.4 620.5,296.5 624.5,310.7 628.5,329.3 632.5,340.2 636.5,346.3 640.5,352.6 644.5,352.8 648.5,360.5 652.5,370.7 656.5,380.4 660.5,387.3 664.5,392.0 668.5,397.3 672.5,408.4 676.5,412.4 680.5,414.9 684.5,422.8 688.5,427.6 692.5,429.2 696.5,426.1 700.5,420.2 704.5,419.8 708.5,422.2 712.5,419.6 716.5,417.1 720.5,404.8 724.5,398.5 728.5,398.3 732.5,388.1 736.5,383.7 740.5,377.5 744.5,381.0 748.5,384.0 752.5,384.1 756.5,378.7 760.5,378.4 764.5,382.2 768.5,377.2 772.5,369.9 776.5,366.0 780.5,365.7 784.5,359.6 788.5,351.2 792.5,348.1 796.5,341.5 800.5,332.9 804.5,330.8 808.5,322.5 812.5,319.8 816.5,314.9 820.5,305.0 824.5,291.8 828.5,282.4 832.5,275.1 836.5,270.5 840.5,267.6 844.5,267.6 848.5,268.7 852.5,268.0 856.5,273.9 860.5,276.7 864.5,284.9 868.5,290.3 872.5,292.4 876.5,298.6 880.5,308.4 884.5,322.8 888.5,332.5 892.5,341.0 896.5,340.0 900.5,333.9 904.5,328.2 908.5,321.4 912.5,317.4 916.5,315.9 920.5,309.8 924.5,306.4 928.5,308.0 932.5,313.0 936.5,318.2 940.5,324.9 944.5,332.0 948.5,334.5 952.5,344.1 956.5,348.6 960.5,357.7 964.5,359.2 968.5,367.5 972.5,376.8 976.5,383.2 980.5,391.7 984.5,398.8 988.5,412.3 992.5,422.3 996.5,426.6 1000.5,423.5 1004.5,425.2 1008.5,429.7 1012.5,430.1 1016.5,429.5 1020.5,430.9 1024.5,434.3 1028.5,439.9 1032.5,451.4 1036.5,458.1 1040.5,484.6 1044.5,499.5 1048.5,502.4 1052.5,499.5 1056.5,500.4 1060.5,493.3 1064.5,490.0 1068.5,484.6 1072.5,474.1 1076.5,461.8 1080.5,453.9 1084.5,450.0 1088.5,444.1 1092.5,433.3 1096.5,420.5 1100.5,406.9 1104.5,392.8 1108.5,383.7 1112.5,372.5 1116.5,365.8 1120.5,355.5 1124.5,346.9 1128.5,342.6 1132.5,344.1 1136.5,341.3 1140.5,338.2 1144.5,331.4 1148.5,324.8 1152.5,319.1 1156.5,317.2 1160.5,316.8 1164.5,317.4 1168.5,320.1 1172.5,317.5 1176.5,311.5 1180.5,310.2 1184.5,315.1 1188.5,322.3 1192.5,328.8 1196.5,333.0 1200.5,336.4 1204.5,332.2 1208.5,329.2 1212.5,328.6 1216.5,326.6 1220.5,323.0 1224.5,322.2 1228.5,319.6 1232.5,325.8 1236.5,331.3 1240.5,335.8 1244.5,337.1 1248.5,345.6 1252.5,347.6 1256.5,346.2 1260.5,337.2 1264.5,330.4 1268.5,323.5 1272.5,321.7 1276.5,321.0 1280.5,321.8 1284.5,319.9 1288.5,320.3 1292.5,317.0 1296.5,310.7 1300.5,308.0 1304.5,303.6 1308.5,295.2 1312.5,290.3 1316.5,281.0 1320.5,278.9 1324.5,281.7 1328.5,285.9 1332.5,291.1 1336.5,292.1 1340.5,285.8 1344.5,284.4 1348.5,285.7 1352.5,288.1 1356.5,290.4 1360.5,293.3 1364.5,294.9 1368.5,292.8 1372.5,293.4 1376.5,289.7 1380.5,281.6 1384.5,278.3 1388.5,280.5 1392.5,285.2 1396.5,287.5 1400.5,291.9 1404.5,296.5 1408.5,289.6 1412.5,275.4 1416.5,265.4 1420.5,260.3 1424.5,256.4 1428.5,249.5 1432.5,246.8 1436.5,245.0 1440.5,243.3 1444.5,240.5 1448.5,239.1 1452.5,235.7 1456.5,226.7 1460.5,222.9 1464.5,221.0 1468.5,220.7 1472.5,218.0 1476.5,217.0 1480.5,212.2 1484.5,208.9 1488.5,205.5 1492.5,195.7 1496.5,195.2 1500.5,195.7 1504.5,195.2 1508.5,195.1 1512.5,194.5 1516.5,191.4 1520.5,181.4 1524.5,177.2 1528.5,179.7 1532.5,182.6 1536.5,188.5 1540.5,191.9 1544.5,194.5 1548.5,193.6 1552.5,193.6 1556.5,193.3 1560.5,183.1 1564.5,177.7 1568.5,175.0 1572.5,167.7 1576.5,162.8 1580.5,167.0 1584.5,171.1 1588.5,172.7 1592.5,174.7 1596.5,174.6 1600.5,175.3 1604.5,177.1 1608.5,176.1 1612.5,176.8 1616.5,175.0 1620.5,168.4 1624.5,176.7 1628.5,180.2 1632.5,180.9 1636.5,173.9 1640.5,166.7 1644.5,162.9 1648.5,163.7 1652.5,164.5 1656.5,164.5 1660.5,165.9 1664.5,169.8 1668.5,173.1 1672.5,176.0 1676.5,180.1 1680.5,183.1 1684.5,190.5 1688.5,196.5 1692.5,199.4 1696.5,199.2 1700.5,199.0 1704.5,202.0 1708.5,207.0 1712.5,202.9 1716.5,199.9 1720.5,198.5 1724.5,196.7 1728.5,195.3 1732.5,193.2 1736.5,189.5 1740.5,184.8 1744.5,181.6 1748.5,176.3 1752.5,174.3 1756.5,172.8" fill="none" stroke="#0000ff" stroke-width="1"/>
<polyline points="4.5,101.8 8.5,105.7 12.5,107.2 16.5,108.7 20.5,113.9 24.5,115.7 28.5,117.3 32.5,119.9 36.5,121.1 40.5,122.2 44.5,123.4 48.5,120.8 52.5,119.9 56.5,115.1 60.5,105.7 64.5,96.6 68.5,90.9 72.5,86.8 76.5,85.9 80.5,84.4 84.5,85.3 88.5,86.4 92.5,86.8 96.5,92.9 100.5,97.0 104.5,99.3 108.5,101.3 112.5,101.9 116.5,102.7 120.5,108.2 124.5,113.1 128.5,117.6 132.5,120.6 136.5,123.3 140.5,126.6 144.5,125.7 148.5,130.2 152.5,133.7 156.5,134.8 160.5,131.6 164.5,127.2 168.5,125.7 172.5,122.4 176.5,122.2 180.5,135.7 184.5,148.0 188.5,157.6 192.5,172.1 196.5,187.1 200.5,200.3 204.5,209.0 208.5,210.7 212.5,214.2 216.5,216.6 220.5,217.7 224.5,213.4 228.5,212.2 232.5,217.9 236.5,223.3 240.5,231.9 244.5,240.9 248.5,250.6 252.5,259.7 256.5,275.5 260.5,283.5 264.5,288.2 268.5,287.0 272.5,276.5 276.5,266.0 280.5,250.8 284.5,232.2 288.5,216.8 292.5,210.2 296.5,202.8 300.5,179.3 304.5,174.8 308.5,174.6 312.5,179.3 316.5,183.7 320.5,192.4 324.5,205.3 328.5,211.3 332.5,210.3 336.5,211.8 340.5,215.0 344.5,214.2 348.5,225.3 352.5,237.0 356.5,245.1 360.5,257.3 364.5,260.8 368.5,265.3 372.5,270.3 376.5,278.3 380.5,287.1 384.5,293.3 388.5,294.4 392.5,293.5 396.5,290.1 400.5,291.3 404.5,292.4 408.5,297.7 412.5,305.5 416.5,317.5 420.5,334.0 424.5,347.2 428.5,358.0 432.5,372.8 436.5,392.0 440.5,422.7 444.5,427.4 448.5,431.9 452.5,424.0 456.5,417.2 460.5,408.4 464.5,405.1 468.5,394.6 472.5,380.6 476.5,373.0 480.5,363.2 484.5,360.2 488.5,349.9 492.5,336.7 496.5,322.1 500.5,312.7 504.5,306.9 508.5,306.3 512.5,306.3 516.5,308.5 520.5,307.2 524.5,312.7 528.5,310.3 532.5,302.6 536.5,293.3 540.5,262.8 544.5,249.8 548.5,235.8 552.5,223.9 556.5,213.6 560.5,210.5 564.5,211.2 568.5,216.2 572.5,212.3 576.5,204.5 580.5,203.2 584.5,206.0 588.5,213.5 592.5,225.2 596.5,231.2 600.5,236.4 604.5,245.7 608.5,251.3 612.5,262.6 616.5,271.5 620.5,287.5 624.5,300.8 628.5,317.8 632.5,328.8 636.5,335.9 640.5,342.9 644.5,344.8 648.5,352.6 652.5,362.4 656.5,371.9 660.5,379.1 664.5,384.4 668.5,390.1 672.5,400.5 676.5,405.2 680.5,408.6 684.5,416.2 688.5,421.3 692.5,423.7 696.5,422.2 700.5,418.1 704.5,418.2 708.5,420.4 712.5,418.6 716.5,416.8 720.5,406.7 724.5,401.2 728.5,400.5 732.5,391.8 736.5,387.6 740.5,381.7 744.5,383.9 748.5,385.8 752.5,385.6 756.5,380.8 760.5,380.2 764.5,383.0 768.5,378.7 772.5,372.5 776.5,368.9 780.5,368.1 784.5,362.7 788.5,355.2 792.5,352.0 796.5,345.9 800.5,338.0 804.5,335.4 808.5,327.8 812.5,324.6 816.5,319.7 820.5,310.7 824.5,298.9 828.5,289.9 832.5,282.6 836.5,277.5 840.5,273.8 844.5,272.7 848.5,272.6 852.5,271.3 856.5,275.6 860.5,277.5 864.5,284.1 868.5,288.7 872.5,290.7 876.5,296.1 880.5,304.5 884.5,317.1 888.5,326.1 892.5,334.1 896.5,334.6 900.5,330.6 904.5,326.5 908.5,321.3 912.5,318.0 916.5,316.7 920.5,311.5 924.5,308.4 928.5,309.4 932.5,313.2 936.5,317.4 940.5,323.1 944.5,329.2 948.5,331.8 952.5,340.1 956.5,344.5 960.5,352.7 964.5,354.8 968.5,362.4 972.5,371.0 976.5,377.3 980.5,385.3 984.5,392.2 988.5,404.5 992.5,414.1 996.5,419.1 1000.5,417.9 1004.5,420.4 1008.5,424.9 1012.5,426.1 1016.5,426.4 1020.5,428.0 1024.5,431.4 1028.5,436.5 1032.5,446.5 1036.5,452.9 1040.5,475.5 1044.5,489.3 1048.5,493.6 1052.5,492.8 1056.5,494.8 1060.5,490.0 1064.5,487.9 1068.5,483.8 1072.5,475.4 1076.5,465.1 1080.5,458.0 1084.5,454.1 1088.5,448.6 1092.5,438.9 1096.5,427.4 1100.5,415.0 1104.5,402.0 1108.5,392.8 1112.5,382.1 1116.5,374.9 1120.5,364.8 1124.5,356.0 1128.5,350.8 1132.5,350.6 1136.5,347.1 1140.5,343.6 1144.5,337.0 1148.5,330.5 1152.5,324.9 1156.5,322.3 1160.5,321.0 1164.5,320.8 1168.5,322.4 1172.5,319.8 1176.5,314.5 1180.5,312.9 1184.5,316.4 1188.5,322.1 1192.5,327.4 1196.5,331.1 1200.5,334.2 1204.5,331.2 1208.5,328.9 1212.5,328.5 1216.5,326.8 1220.5,323.9 1224.5,323.1 1228.5,320.8 1232.5,325.6 1236.5,330.2 1240.5,334.0 1244.5,335.4 1248.5,342.7 1252.5,344.8 1256.5,344.2 1260.5,337.2 1264.5,331.6 1268.5,325.8 1272.5,323.9 1276.5,322.9 1280.5,323.2 1284.5,321.4 1288.5,321.5 1292.5,318.6 1296.5,313.1 1300.5,310.4 1304.5,306.4 1308.5,299.0 1312.5,294.4 1316.5,286.0 1320.5,283.4 1324.5,284.9 1328.5,287.7 1332.5,291.7 1336.5,292.4 1340.5,287.1 1344.5,285.7 1348.5,286.6 1352.5,288.4 1356.5,290.2 1360.5,292.6 1364.5,294.1 1368.5,292.5 1372.5,293.1 1376.5,290.0 1380.5,283.4 1384.5,280.3 1388.5,281.8 1392.5,285.4 1396.5,287.2 1400.5,290.9 1404.5,294.8 1408.5,289.5 1412.5,277.9 1416.5,269.3 1420.5,264.4 1424.5,260.4 1428.5,254.1 1432.5,251.1 1436.5,248.8 1440.5,246.7 1444.5,243.8 1448.5,242.1 1452.5,238.7 1456.5,230.9 1460.5,227.0 1464.5,224.7 1468.5,223.8 1472.5,221.0 1476.5,219.6 1480.5,215.2 1484.5,212.0 1488.5,208.6 1492.5,200.1 1496.5,198.9 1500.5,198.6 1504.5,197.7 1508.5,197.1 1512.5,196.3 1516.5,193.4 1520.5,184.9 1524.5,180.8 1528.5,182.2 1532.5,184.1 1536.5,188.7 1540.5,191.4 1544.5,193.6 1548.5,193.0 1552.5,193.1 1556.5,193.0 1560.5,184.7 1564.5,180.0 1568.5,177.3 1572.5,171.0 1576.5,166.4 1580.5,169.1 1584.5,172.1 1588.5,173.3 1592.5,174.8 1596.5,174.7 1600.5,175.2 1604.5,176.7 1608.5,176.0 1612.5,176.6 1616.5,175.1 1620.5,169.7 1624.5,176.2 1628.5,179.2 1632.5,180.0 1636.5,174.4 1640.5,168.4 1644.5,165.0 1648.5,165.3 1652.5,165.7 1656.5,165.5 1660.5,166.4 1664.5,169.5 1668.5,172.2 1672.5,174.8 1676.5,178.4 1680.5,181.1 1684.5,187.6 1688.5,193.0 1692.5,196.0 1696.5,196.5 1700.5,196.8 1704.5,199.7 1708.5,204.2 1712.5,201.3 1716.5,199.2 1720.5,198.2 1724.5,196.8 1728.5,195.6 1732.5,193.8 1736.5,190.6 1740.5,186.6 1744.5,183.7 1748.5,178.9 1752.5,176.8 1756.5,175.1" fill="none" stroke="#0000ff" stroke-width="1"/>
<polyline points="4.5,98.3 8.5,102.2 12.5,103.9 16.5,105.7 20.5,110.6 24.5,112.6 28.5,114.4 32.5,117.0 36.5,118.5 40.5,119.9 44.5,121.2 48.5,119.4 52.5,118.8 56.5,114.9 60.5,107.0 64.5,99.1 68.5,93.9 72.5,90.0 76.5,88.7 80.5,87.0 84.5,87.4 88.5,88.0 92.5,88.1 96.5,93.1 100.5,96.5 104.5,98.5 108.5,100.4 112.5,101.0 116.5,101.8 120.5,106.6 124.5,111.0 128.5,115.1 132.5,118.1 136.5,120.8 140.5,123.9 144.5,123.6 148.5,127.7 152.5,131.1 156.5,132.4 160.5,130.1 164.5,126.6 168.5,125.4 172.5,122.6 176.5,122.4 180.5,133.8 184.5,144.6 188.5,153.2 192.5,166.1 196.5,179.7 200.5,192.0 204.5,200.7 208.5,203.4 212.5,207.4 216.5,210.5 220.5,212.4 224.5,209.6 228.5,209.1 232.5,214.4 236.5,219.5 240.5,227.4 244.5,235.7 248.5,244.7 252.5,253.3 256.5,267.7 260.5,275.6 264.5,280.8 268.5,280.9 272.5,273.0 276.5,264.6 280.5,252.0 284.5,236.1 288.5,222.5 292.5,216.0 296.5,208.8 300.5,188.0 304.5,182.9 308.5,181.4 312.5,184.4 316.5,187.3 320.5,194.1 324.5,204.8 328.5,210.0 332.5,209.3 336.5,210.7 340.5,213.6 344.5,213.1 348.5,222.7 352.5,233.0 356.5,240.5 360.5,251.5 364.5,255.4 368.5,260.0 372.5,265.0 376.5,272.6 380.5,280.9 384.5,287.2 388.5,289.1 392.5,289.1 396.5,286.9 400.5,288.4 404.5,289.8 408.5,294.6 412.5,301.7 416.5,312.4 420.5,327.2 424.5,339.4 428.5,349.7 432.5,363.5 436.5,381.2 440.5,408.8 444.5,414.9 448.5,420.7 452.5,415.7 456.5,411.2 460.5,404.7 464.5,402.5 468.5,394.0 472.5,382.3 476.5,375.5 480.5,366.9 484.5,363.8 488.5,354.5 492.5,342.6 496.5,329.4 500.5,320.3 504.5,314.2 508.5,312.6 512.5,311.6 516.5,312.7 520.5,311.0 524.5,315.0 528.5,312.7 532.5,305.7 536.5,297.4 540.5,270.9 544.5,258.7 548.5,245.4 552.5,233.9 556.5,223.7 560.5,219.5 564.5,218.7 568.5,221.8 572.5,217.6 576.5,210.2 580.5,208.2 584.5,209.8 588.5,215.6 592.5,225.1 596.5,230.3 600.5,234.8 604.5,242.9 608.5,248.0 612.5,258.1 616.5,266.3 620.5,280.7 624.5,292.9 628.5,308.6 632.5,319.3 636.5,326.7 640.5,334.1 644.5,337.1 648.5,344.8 652.5,354.3 656.5,363.6 660.5,371.0 664.5,376.7 668.5,382.7 672.5,392.7 676.5,397.9 680.5,401.8 684.5,409.3 688.5,414.7 692.5,417.8 696.5,417.4 700.5,414.7 704.5,415.2 708.5,417.6 712.5,416.5 716.5,415.3 720.5,407.0 724.5,402.3 728.5,401.6 732.5,394.0 736.5,390.1 740.5,384.8 744.5,386.1 748.5,387.4 752.5,387.0 756.5,382.7 760.5,381.9 764.5,384.0 768.5,380.2 772.5,374.7 776.5,371.3 780.5,370.3 784.5,365.4 788.5,358.6 792.5,355.4 796.5,349.7 800.5,342.4 804.5,339.5 808.5,332.4 812.5,329.1 816.5,324.2 820.5,316.0 824.5,305.1 828.5,296.6 832.5,289.3 836.5,284.0 840.5,279.9 844.5,278.0 848.5,277.1 852.5,275.3 856.5,278.3 860.5,279.6 864.5,284.8 868.5,288.6 872.5,290.3 876.5,294.9 880.5,302.2 884.5,313.2 888.5,321.4 892.5,329.0 896.5,330.1 900.5,327.4 904.5,324.5 908.5,320.3 912.5,317.8 916.5,316.6 920.5,312.3 924.5,309.6 928.5,310.2 932.5,313.3 936.5,316.9 940.5,321.7 944.5,327.1 948.5,329.6 952.5,337.0 956.5,341.2 960.5,348.6 964.5,351.1 968.5,358.1 972.5,366.0 976.5,372.1 980.5,379.7 984.5,386.4 988.5,397.7 992.5,406.9 996.5,412.2 1000.5,412.2 1004.5,415.2 1008.5,419.9 1012.5,421.7 1016.5,422.6 1020.5,424.5 1024.5,427.9 1028.5,432.8 1032.5,441.8 1036.5,447.9 1040.5,467.9 1044.5,480.7 1048.5,485.6 1052.5,486.2 1056.5,488.9 1060.5,485.7 1064.5,484.6 1068.5,481.7 1072.5,474.9 1076.5,466.2 1080.5,460.1 1084.5,456.5 1088.5,451.4 1092.5,442.8 1096.5,432.4 1100.5,421.2 1104.5,409.3 1108.5,400.4 1112.5,390.1 1116.5,382.8 1120.5,373.0 1124.5,364.3 1128.5,358.7 1132.5,357.3 1136.5,353.3 1140.5,349.3 1144.5,342.9 1148.5,336.5 1152.5,330.8 1156.5,327.7 1160.5,325.8 1164.5,324.9 1168.5,325.6 1172.5,322.9 1176.5,317.9 1180.5,316.0 1184.5,318.6 1188.5,323.0 1192.5,327.4 1196.5,330.5 1200.5,333.3 1204.5,330.8 1208.5,328.9 1212.5,328.6 1216.5,327.2 1220.5,324.6 1224.5,323.8 1228.5,321.8 1232.5,325.7 1236.5,329.5 1240.5,332.9 1244.5,334.2 1248.5,340.6 1252.5,342.7 1256.5,342.5 1260.5,336.8 1264.5,332.2 1268.5,327.1 1272.5,325.4 1276.5,324.3 1280.5,324.3 1284.5,322.7 1288.5,322.5 1292.5,319.9 1296.5,315.0 1300.5,312.5 1304.5,308.8 1308.5,302.1 1312.5,297.7 1316.5,290.2 1320.5,287.3 1324.5,287.9 1328.5,289.9 1332.5,292.9 1336.5,293.3 1340.5,288.7 1344.5,287.3 1348.5,287.8 1352.5,289.1 1356.5,290.6 1360.5,292.6 1364.5,293.8 1368.5,292.5 1372.5,293.0 1376.5,290.4 1380.5,284.8 1384.5,281.9 1388.5,283.0 1392.5,285.8 1396.5,287.3 1400.5,290.4 1404.5,293.8 1408.5,289.4 1412.5,279.6 1416.5,272.1 1420.5,267.5 1424.5,263.7 1428.5,257.8 1432.5,254.7 1436.5,252.2 1440.5,249.9 1444.5,246.9 1448.5,245.0 1452.5,241.7 1456.5,234.6 1460.5,230.7 1464.5,228.2 1468.5,226.9 1472.5,224.1 1476.5,222.4 1480.5,218.3 1484.5,215.1 1488.5,211.8 1492.5,204.0 1496.5,202.4 1500.5,201.7 1504.5,200.4 1508.5,199.5 1512.5,198.4 1516.5,195.7 1520.5,188.1 1524.5,184.2 1528.5,184.8 1532.5,186.0 1536.5,189.6 1540.5,191.8 1544.5,193.6 1548.5,193.1 1552.5,193.2 1556.5,193.1 1560.5,186.0 1564.5,181.8 1568.5,179.3 1572.5,173.6 1576.5,169.3 1580.5,171.2 1584.5,173.4 1588.5,174.2 1592.5,175.3 1596.5,175.2 1600.5,175.5 1604.5,176.8 1608.5,176.1 1612.5,176.6 1616.5,175.4 1620.5,170.8 1624.5,176.1 1628.5,178.6 1632.5,179.4 1636.5,174.8 1640.5,169.7 1644.5,166.6 1648.5,166.6 1652.5,166.7 1656.5,166.4 1660.5,167.0 1664.5,169.5 1668.5,171.8 1672.5,174.1 1676.5,177.2 1680.5,179.7 1684.5,185.4 1688.5,190.3 1692.5,193.3 1696.5,194.1 1700.5,194.8 1704.5,197.5 1708.5,201.6 1712.5,199.6 1716.5,198.1 1720.5,197.4 1724.5,196.3 1728.5,195.4 1732.5,193.9 1736.5,191.2 1740.5,187.7 1744.5,185.1 1748.5,180.8 1752.5,178.8 1756.5,177.0" fill="none" stroke="#0000ff" stroke-width="1"/>
<polyline points="4.5,94.1 8.5,97.8 12.5,99.7 16.5,101.7 20.5,106.2 24.5,108.3 28.5,110.4 32.5,113.0 36.5,114.7 40.5,116.3 44.5,117.8 48.5,116.8 52.5,116.6 56.5,113.7 60.5,107.5 64.5,101.0 68.5,96.5 72.5,93.0 76.5,91.6 80.5,89.8 84.5,89.8 88.5,90.0 92.5,89.8 96.5,93.6 100.5,96.4 104.5,98.0 108.5,99.6 112.5,100.2 116.5,101.0 120.5,104.9 124.5,108.7 128.5,112.3 132.5,115.1 136.5,117.7 140.5,120.6 144.5,120.7 148.5,124.5 152.5,127.6 156.5,129.1 160.5,127.6 164.5,125.1 168.5,124.3 172.5,122.2 176.5,122.1 180.5,131.4 184.5,140.4 188.5,147.9 192.5,159.1 196.5,171.0 200.5,182.1 204.5,190.4 208.5,193.9 212.5,198.4 216.5,202.0 220.5,204.6 224.5,203.3 228.5,203.7 232.5,208.7 236.5,213.5 240.5,220.7 244.5,228.3 248.5,236.5 252.5,244.5 256.5,257.3 260.5,265.1 264.5,270.6 268.5,272.0 272.5,266.7 276.5,260.6 280.5,250.9 284.5,238.1 288.5,226.8 292.5,221.0 296.5,214.5 300.5,196.9 304.5,191.6 308.5,189.3 312.5,190.7 316.5,192.3 320.5,197.2 324.5,205.5 328.5,209.6 332.5,209.1 336.5,210.3 340.5,212.7 344.5,212.4 348.5,220.3 352.5,229.0 356.5,235.5 360.5,245.1 364.5,249.1 368.5,253.6 372.5,258.5 376.5,265.5 380.5,273.1 384.5,279.2 388.5,281.7 392.5,282.7 396.5,281.7 400.5,283.5 404.5,285.3 408.5,289.8 412.5,296.1 416.5,305.5 420.5,318.4 424.5,329.4 428.5,339.1 432.5,351.6 436.5,367.5 440.5,391.6 444.5,398.7 448.5,405.4 452.5,403.3 456.5,401.2 460.5,397.1 464.5,396.3 468.5,390.2 472.5,381.1 476.5,375.8 480.5,368.8 484.5,366.0 488.5,358.2 492.5,348.1 496.5,336.6 500.5,328.4 504.5,322.4 508.5,320.0 512.5,318.3 516.5,318.4 520.5,316.2 524.5,318.9 528.5,316.5 532.5,310.4 536.5,303.0 540.5,280.8 544.5,269.6 548.5,257.5 552.5,246.6 556.5,236.7 560.5,231.7 564.5,229.6 568.5,230.7 572.5,226.2 576.5,219.1 580.5,216.4 584.5,216.6 588.5,220.5 592.5,227.6 596.5,231.5 600.5,235.0 604.5,241.5 608.5,245.9 612.5,254.4 616.5,261.5 620.5,273.8 624.5,284.6 628.5,298.3 632.5,308.4 636.5,315.8 640.5,323.1 644.5,326.9 648.5,334.5 652.5,343.5 656.5,352.4 660.5,359.7 664.5,365.8 668.5,372.0 672.5,381.5 676.5,387.1 680.5,391.7 684.5,399.0 688.5,404.7 692.5,408.4 696.5,409.3 700.5,408.1 704.5,409.4 708.5,412.0 712.5,411.8 716.5,411.4 720.5,405.2 724.5,401.6 728.5,401.1 732.5,395.0 736.5,391.7 740.5,387.2 744.5,388.0 748.5,388.8 752.5,388.2 756.5,384.7 760.5,383.8 764.5,385.2 768.5,382.0 772.5,377.3 776.5,374.2 780.5,373.0 784.5,368.7 788.5,362.8 792.5,359.6 796.5,354.5 800.5,348.0 804.5,344.9 808.5,338.5 812.5,335.0 816.5,330.3 820.5,322.8 824.5,313.2 828.5,305.2 832.5,298.2 836.5,292.8 840.5,288.4 844.5,285.8 848.5,284.1 852.5,281.8 856.5,283.4 860.5,283.8 864.5,287.5 868.5,290.2 872.5,291.4 876.5,295.0 880.5,301.0 884.5,310.0 888.5,317.1 892.5,323.8 896.5,325.4 900.5,323.7 904.5,321.8 908.5,318.8 912.5,316.9 916.5,316.1 920.5,312.6 924.5,310.4 928.5,310.8 932.5,313.2 936.5,316.1 940.5,320.2 944.5,324.7 948.5,327.1 952.5,333.4 956.5,337.3 960.5,343.8 964.5,346.4 968.5,352.6 972.5,359.8 976.5,365.5 980.5,372.5 984.5,378.9 988.5,388.9 992.5,397.5 996.5,403.0 1000.5,404.2 1004.5,407.6 1008.5,412.3 1012.5,414.7 1016.5,416.3 1020.5,418.7 1024.5,422.2 1028.5,426.9 1032.5,434.9 1036.5,440.8 1040.5,457.9 1044.5,469.6 1048.5,474.9 1052.5,476.7 1056.5,480.1 1060.5,478.6 1064.5,478.6 1068.5,477.0 1072.5,472.0 1076.5,465.4 1080.5,460.5 1084.5,457.5 1088.5,453.2 1092.5,446.0 1096.5,437.2 1100.5,427.5 1104.5,417.0 1108.5,408.8 1112.5,399.4 1116.5,392.3 1120.5,383.2 1124.5,374.9 1128.5,368.9 1132.5,366.5 1136.5,362.1 1140.5,357.8 1144.5,351.5 1148.5,345.3 1152.5,339.5 1156.5,335.9 1160.5,333.4 1164.5,331.6 1168.5,331.4 1172.5,328.5 1176.5,323.8 1180.5,321.5 1184.5,322.8 1188.5,325.9 1192.5,329.1 1196.5,331.4 1200.5,333.6 1204.5,331.6 1208.5,329.9 1212.5,329.5 1216.5,328.2 1220.5,326.0 1224.5,325.2 1228.5,323.4 1232.5,326.4 1236.5,329.4 1240.5,332.2 1244.5,333.3 1248.5,338.6 1252.5,340.6 1256.5,340.7 1260.5,336.3 1264.5,332.6 1268.5,328.4 1272.5,326.8 1276.5,325.8 1280.5,325.6 1284.5,324.1 1288.5,323.8 1292.5,321.5 1296.5,317.4 1300.5,315.0 1304.5,311.7 1308.5,305.9 1312.5,301.9 1316.5,295.2 1320.5,292.2 1324.5,292.1 1328.5,293.2 1332.5,295.2 1336.5,295.3 1340.5,291.3 1344.5,289.8 1348.5,289.9 1352.5,290.7 1356.5,291.7 1360.5,293.2 1364.5,294.1 1368.5,293.0 1372.5,293.3 1376.5,291.2 1380.5,286.5 1384.5,284.0 1388.5,284.6 1392.5,286.7 1396.5,287.8 1400.5,290.3 1404.5,293.0 1408.5,289.6 1412.5,281.6 1416.5,275.2 1420.5,271.1 1424.5,267.5 1428.5,262.3 1432.5,259.2 1436.5,256.6 1440.5,254.2 1444.5,251.2 1448.5,249.2 1452.5,245.9 1456.5,239.6 1460.5,235.9 1464.5,233.2 1468.5,231.5 1472.5,228.6 1476.5,226.7 1480.5,222.8 1484.5,219.7 1488.5,216.4 1492.5,209.5 1496.5,207.5 1500.5,206.3 1504.5,204.7 1508.5,203.4 1512.5,202.0 1516.5,199.3 1520.5,192.7 1524.5,189.0 1528.5,188.9 1532.5,189.4 1536.5,191.9 1540.5,193.3 1544.5,194.6 1548.5,194.1 1552.5,194.0 1556.5,193.8 1560.5,188.0 1564.5,184.3 1568.5,182.0 1572.5,177.0 1576.5,173.1 1580.5,174.2 1584.5,175.6 1588.5,175.9 1592.5,176.6 1596.5,176.4 1600.5,176.5 1604.5,177.4 1608.5,176.8 1612.5,177.1 1616.5,176.0 1620.5,172.2 1624.5,176.4 1628.5,178.4 1632.5,179.0 1636.5,175.3 1640.5,171.1 1644.5,168.4 1648.5,168.2 1652.5,168.1 1656.5,167.6 1660.5,168.0 1664.5,169.9 1668.5,171.8 1672.5,173.6 1676.5,176.2 1680.5,178.4 1684.5,183.1 1688.5,187.4 1692.5,190.2 1696.5,191.2 1700.5,192.1 1704.5,194.7 1708.5,198.4 1712.5,197.2 1716.5,196.2 1720.5,195.9 1724.5,195.2 1728.5,194.6 1732.5,193.5 1736.5,191.4 1740.5,188.5 1744.5,186.2 1748.5,182.7 1752.5,180.8 1756.5,179.1" fill="none" stroke="#0000ff" stroke-width="1"/>
</g>
<path d="M178.3 148.7L186.3 132.1H182.3V121.49999999999999H174.3V132.1H170.3Z" fill="url(#gd)" shape-rendering="geometricPrecision"/>
<path d="M410.6 321L418.6 304.4H414.6V293.8H406.6V304.4H402.6Z" fill="url(#gd)" shape-rendering="geometricPrecision"/>
<path d="M522 298.5L530 281.9H526V271.3H518V281.9H514Z" fill="url(#gd)" shape-rendering="geometricPrecision"/>
<path d="M744.7 343.1L752.7 326.5H748.7V315.90000000000003H740.7V326.5H736.7Z" fill="url(#gd)" shape-rendering="geometricPrecision"/>
<path d="M1029.2 444.5L1037.2 427.9H1033.2V417.3H1025.2V427.9H1021.2Z" fill="url(#gd)" shape-rendering="geometricPrecision"/>
<path d="M207.2 252.7L216.2 269.7H211.79999999999998V280.7H202.6V269.7H198.2Z" fill="url(#gu)" shape-rendering="geometricPrecision"/>
<path d="M445.8 567L454.8 584H450.40000000000003V595H441.2V584H436.8Z" fill="url(#gu)" shape-rendering="geometricPrecision"/>
<path d="M534.4 303.5L543.4 320.5H539.0V331.5H529.8V320.5H525.4Z" fill="url(#gu)" shape-rendering="geometricPrecision"/>
<path d="M771.3 359.7L780.3 376.7H775.9V387.7H766.6999999999999V376.7H762.3Z" fill="url(#gu)" shape-rendering="geometricPrecision"/>
<path d="M1043 577L1052 594H1047.6V605H1038.4V594H1034Z" fill="url(#gu)" shape-rendering="geometricPrecision"/>
<text x="19.2" y="12.9" font-size="10" textLength="50.3" lengthAdjust="spacingAndGlyphs" fill="#000" stroke="#000" stroke-width="0.22" xml:space="preserve">GBPJPY,M1</text>
<text x="75.7" y="12.9" font-size="10" textLength="33" lengthAdjust="spacingAndGlyphs" fill="#000" stroke="#000" stroke-width="0.22" xml:space="preserve">210.467</text>
<text x="111.7" y="12.9" font-size="10" textLength="33" lengthAdjust="spacingAndGlyphs" fill="#000" stroke="#000" stroke-width="0.22" xml:space="preserve">210.478</text>
<text x="148" y="12.9" font-size="10" textLength="33" lengthAdjust="spacingAndGlyphs" fill="#000" stroke="#000" stroke-width="0.22" xml:space="preserve">210.456</text>
<text x="183.7" y="12.9" font-size="10" textLength="33" lengthAdjust="spacingAndGlyphs" fill="#000" stroke="#000" stroke-width="0.22" xml:space="preserve">210.472</text>
<rect x="1767" y="29" width="2" height="1" fill="#000"/>
<text x="1772" y="32.4" font-size="9.3" textLength="33" lengthAdjust="spacingAndGlyphs" fill="#000" stroke="#000" stroke-width="0.22" xml:space="preserve">210.765</text>
<rect x="1767" y="62" width="2" height="1" fill="#000"/>
<text x="1772" y="65.4" font-size="9.3" textLength="33" lengthAdjust="spacingAndGlyphs" fill="#000" stroke="#000" stroke-width="0.22" xml:space="preserve">210.695</text>
<rect x="1767" y="95" width="2" height="1" fill="#000"/>
<text x="1772" y="98.4" font-size="9.3" textLength="33" lengthAdjust="spacingAndGlyphs" fill="#000" stroke="#000" stroke-width="0.22" xml:space="preserve">210.625</text>
<rect x="1767" y="128" width="2" height="1" fill="#000"/>
<text x="1772" y="131.4" font-size="9.3" textLength="33" lengthAdjust="spacingAndGlyphs" fill="#000" stroke="#000" stroke-width="0.22" xml:space="preserve">210.555</text>
<rect x="1767" y="161" width="2" height="1" fill="#000"/>
<text x="1772" y="164.4" font-size="9.3" textLength="33" lengthAdjust="spacingAndGlyphs" fill="#000" stroke="#000" stroke-width="0.22" xml:space="preserve">210.485</text>
<rect x="1767" y="194" width="2" height="1" fill="#000"/>
<text x="1772" y="197.4" font-size="9.3" textLength="33" lengthAdjust="spacingAndGlyphs" fill="#000" stroke="#000" stroke-width="0.22" xml:space="preserve">210.415</text>
<rect x="1767" y="227" width="2" height="1" fill="#000"/>
<text x="1772" y="230.4" font-size="9.3" textLength="33" lengthAdjust="spacingAndGlyphs" fill="#000" stroke="#000" stroke-width="0.22" xml:space="preserve">210.345</text>
<rect x="1767" y="260" width="2" height="1" fill="#000"/>
<text x="1772" y="263.4" font-size="9.3" textLength="33" lengthAdjust="spacingAndGlyphs" fill="#000" stroke="#000" stroke-width="0.22" xml:space="preserve">210.275</text>
<rect x="1767" y="293" width="2" height="1" fill="#000"/>
<text x="1772" y="296.4" font-size="9.3" textLength="33" lengthAdjust="spacingAndGlyphs" fill="#000" stroke="#000" stroke-width="0.22" xml:space="preserve">210.205</text>
<rect x="1767" y="327" width="2" height="1" fill="#000"/>
<text x="1772" y="330.4" font-size="9.3" textLength="33" lengthAdjust="spacingAndGlyphs" fill="#000" stroke="#000" stroke-width="0.22" xml:space="preserve">210.135</text>
<rect x="1767" y="360" width="2" height="1" fill="#000"/>
<text x="1772" y="363.4" font-size="9.3" textLength="33" lengthAdjust="spacingAndGlyphs" fill="#000" stroke="#000" stroke-width="0.22" xml:space="preserve">210.065</text>
<rect x="1767" y="393" width="2" height="1" fill="#000"/>
<text x="1772" y="396.4" font-size="9.3" textLength="33" lengthAdjust="spacingAndGlyphs" fill="#000" stroke="#000" stroke-width="0.22" xml:space="preserve">209.995</text>
<rect x="1767" y="426" width="2" height="1" fill="#000"/>
<text x="1772" y="429.4" font-size="9.3" textLength="33" lengthAdjust="spacingAndGlyphs" fill="#000" stroke="#000" stroke-width="0.22" xml:space="preserve">209.925</text>
<rect x="1767" y="459" width="2" height="1" fill="#000"/>
<text x="1772" y="462.4" font-size="9.3" textLength="33" lengthAdjust="spacingAndGlyphs" fill="#000" stroke="#000" stroke-width="0.22" xml:space="preserve">209.855</text>
<rect x="1767" y="492" width="2" height="1" fill="#000"/>
<text x="1772" y="495.4" font-size="9.3" textLength="33" lengthAdjust="spacingAndGlyphs" fill="#000" stroke="#000" stroke-width="0.22" xml:space="preserve">209.785</text>
<rect x="1767" y="525" width="2" height="1" fill="#000"/>
<text x="1772" y="528.4" font-size="9.3" textLength="33" lengthAdjust="spacingAndGlyphs" fill="#000" stroke="#000" stroke-width="0.22" xml:space="preserve">209.715</text>
<rect x="1767" y="558" width="2" height="1" fill="#000"/>
<text x="1772" y="561.4" font-size="9.3" textLength="33" lengthAdjust="spacingAndGlyphs" fill="#000" stroke="#000" stroke-width="0.22" xml:space="preserve">209.645</text>
<rect x="1767" y="591" width="2" height="1" fill="#000"/>
<text x="1772" y="594.4" font-size="9.3" textLength="33" lengthAdjust="spacingAndGlyphs" fill="#000" stroke="#000" stroke-width="0.22" xml:space="preserve">209.575</text>
<rect x="1768" y="162" width="41" height="11" fill="#000"/>
<text x="1772.3" y="171" font-size="9" textLength="32.7" lengthAdjust="spacingAndGlyphs" fill="#fff" stroke="#fff" stroke-width="0.22" xml:space="preserve">210.472</text>
<text x="8.3" y="608.9" font-size="9.3" textLength="53.2" lengthAdjust="spacingAndGlyphs" fill="#000" stroke="#000" stroke-width="0.22" xml:space="preserve">Spearman(9)</text>
<text x="64.1" y="608.9" font-size="9.3" textLength="27.3" lengthAdjust="spacingAndGlyphs" fill="#000" stroke="#000" stroke-width="0.22" xml:space="preserve">0.8708</text>
<text x="98.6" y="608.9" font-size="9.3" textLength="57.2" lengthAdjust="spacingAndGlyphs" fill="#000" stroke="#000" stroke-width="0.22" xml:space="preserve">Spearman(26)</text>
<text x="159.4" y="608.9" font-size="9.3" textLength="27.3" lengthAdjust="spacingAndGlyphs" fill="#000" stroke="#000" stroke-width="0.22" xml:space="preserve">0.2405</text>
<text x="193.6" y="608.9" font-size="9.3" textLength="57.2" lengthAdjust="spacingAndGlyphs" fill="#000" stroke="#000" stroke-width="0.22" xml:space="preserve">Spearman(52)</text>
<text x="254.4" y="608.9" font-size="9.3" textLength="30.1" lengthAdjust="spacingAndGlyphs" fill="#000" stroke="#000" stroke-width="0.22" xml:space="preserve">-0.2550</text>
<text x="1770.7" y="607.3" font-size="9" textLength="4.2" lengthAdjust="spacingAndGlyphs" fill="#000" stroke="#000" stroke-width="0.22" xml:space="preserve">1</text>
<text x="1769" y="619.7" font-size="9" textLength="13" lengthAdjust="spacingAndGlyphs" font-weight="bold" fill="#000" stroke="#000" stroke-width="0.22" xml:space="preserve">0.8</text>
<text x="1770.4" y="695.5" font-size="9" textLength="17.3" lengthAdjust="spacingAndGlyphs" fill="#000" stroke="#000" stroke-width="0.22" xml:space="preserve">0.00</text>
<text x="1769" y="771.5" font-size="9" textLength="16" lengthAdjust="spacingAndGlyphs" font-weight="bold" fill="#000" stroke="#000" stroke-width="0.22" xml:space="preserve">-0.8</text>
<text x="1770" y="783.6" font-size="9" textLength="7.5" lengthAdjust="spacingAndGlyphs" fill="#000" stroke="#000" stroke-width="0.22" xml:space="preserve">-1</text>
<rect x="1767" y="598" width="1" height="1" fill="#000"/>
<rect x="1767" y="692" width="2" height="1" fill="#000"/>
<rect x="1767" y="787" width="1" height="1" fill="#000"/>
<text x="1770.5" y="799.4" font-size="9" textLength="4.6" lengthAdjust="spacingAndGlyphs" fill="#000" stroke="#000" stroke-width="0.22" xml:space="preserve">2</text>
<text x="1770.5" y="806.7" font-size="9" textLength="17.3" lengthAdjust="spacingAndGlyphs" fill="#000" stroke="#000" stroke-width="0.22" xml:space="preserve">0.00</text>
<text x="1773.5" y="806.7" font-size="9" textLength="4.2" lengthAdjust="spacingAndGlyphs" fill="#000" stroke="#000" stroke-width="0.22" xml:space="preserve">1</text>
<rect x="1767" y="791" width="1" height="1" fill="#000"/>
<rect x="1767" y="803" width="2" height="1" fill="#000"/>
<rect x="1767" y="810" width="1" height="1" fill="#000"/>
<text x="60.5" y="800.8" font-size="10.6" text-anchor="middle" fill="#000" stroke="#000" stroke-width="0.22" xml:space="preserve">16</text>
<text x="300.5" y="800.8" font-size="10.6" text-anchor="middle" fill="#000" stroke="#000" stroke-width="0.22" xml:space="preserve">17</text>
<text x="540.5" y="800.8" font-size="10.6" text-anchor="middle" fill="#000" stroke="#000" stroke-width="0.22" xml:space="preserve">18</text>
<text x="780.5" y="800.8" font-size="10.6" text-anchor="middle" fill="#000" stroke="#000" stroke-width="0.22" xml:space="preserve">19</text>
<text x="1020.5" y="800.8" font-size="10.6" text-anchor="middle" fill="#000" stroke="#000" stroke-width="0.22" xml:space="preserve">20</text>
<text x="1260.5" y="800.8" font-size="10.6" text-anchor="middle" fill="#000" stroke="#000" stroke-width="0.22" xml:space="preserve">21</text>
<text x="1500.5" y="800.8" font-size="10.6" text-anchor="middle" fill="#000" stroke="#000" stroke-width="0.22" xml:space="preserve">22</text>
<text x="1740.5" y="800.8" font-size="10.6" text-anchor="middle" fill="#000" stroke="#000" stroke-width="0.22" xml:space="preserve">23</text>
<rect x="4" y="811" width="1" height="3" fill="#000"/>
<text x="3.2" y="822.6" font-size="9" textLength="49.8" lengthAdjust="spacingAndGlyphs" fill="#000" stroke="#000" stroke-width="0.22" xml:space="preserve">26 Jan 2026</text>
<rect x="68" y="811" width="1" height="3" fill="#000"/>
<text x="67.2" y="822.6" font-size="9" textLength="52.6" lengthAdjust="spacingAndGlyphs" fill="#000" stroke="#000" stroke-width="0.22" xml:space="preserve">26 Jan 09:02</text>
<rect x="132" y="811" width="1" height="3" fill="#000"/>
<text x="131.2" y="822.6" font-size="9" textLength="52.6" lengthAdjust="spacingAndGlyphs" fill="#000" stroke="#000" stroke-width="0.22" xml:space="preserve">26 Jan 09:18</text>
<rect x="196" y="811" width="1" height="3" fill="#000"/>
<text x="195.2" y="822.6" font-size="9" textLength="52.6" lengthAdjust="spacingAndGlyphs" fill="#000" stroke="#000" stroke-width="0.22" xml:space="preserve">26 Jan 09:34</text>
<rect x="260" y="811" width="1" height="3" fill="#000"/>
<text x="259.2" y="822.6" font-size="9" textLength="52.6" lengthAdjust="spacingAndGlyphs" fill="#000" stroke="#000" stroke-width="0.22" xml:space="preserve">26 Jan 09:50</text>
<rect x="324" y="811" width="1" height="3" fill="#000"/>
<text x="323.2" y="822.6" font-size="9" textLength="52.6" lengthAdjust="spacingAndGlyphs" fill="#000" stroke="#000" stroke-width="0.22" xml:space="preserve">26 Jan 10:06</text>
<rect x="388" y="811" width="1" height="3" fill="#000"/>
<text x="387.2" y="822.6" font-size="9" textLength="52.6" lengthAdjust="spacingAndGlyphs" fill="#000" stroke="#000" stroke-width="0.22" xml:space="preserve">26 Jan 10:22</text>
<rect x="452" y="811" width="1" height="3" fill="#000"/>
<text x="451.2" y="822.6" font-size="9" textLength="52.6" lengthAdjust="spacingAndGlyphs" fill="#000" stroke="#000" stroke-width="0.22" xml:space="preserve">26 Jan 10:38</text>
<rect x="516" y="811" width="1" height="3" fill="#000"/>
<text x="515.2" y="822.6" font-size="9" textLength="52.6" lengthAdjust="spacingAndGlyphs" fill="#000" stroke="#000" stroke-width="0.22" xml:space="preserve">26 Jan 10:54</text>
<rect x="580" y="811" width="1" height="3" fill="#000"/>
<text x="579.2" y="822.6" font-size="9" textLength="52.6" lengthAdjust="spacingAndGlyphs" fill="#000" stroke="#000" stroke-width="0.22" xml:space="preserve">26 Jan 11:10</text>
<rect x="644" y="811" width="1" height="3" fill="#000"/>
<text x="643.2" y="822.6" font-size="9" textLength="52.6" lengthAdjust="spacingAndGlyphs" fill="#000" stroke="#000" stroke-width="0.22" xml:space="preserve">26 Jan 11:26</text>
<rect x="708" y="811" width="1" height="3" fill="#000"/>
<text x="707.2" y="822.6" font-size="9" textLength="52.6" lengthAdjust="spacingAndGlyphs" fill="#000" stroke="#000" stroke-width="0.22" xml:space="preserve">26 Jan 11:42</text>
<rect x="772" y="811" width="1" height="3" fill="#000"/>
<text x="771.2" y="822.6" font-size="9" textLength="52.6" lengthAdjust="spacingAndGlyphs" fill="#000" stroke="#000" stroke-width="0.22" xml:space="preserve">26 Jan 11:58</text>
<rect x="836" y="811" width="1" height="3" fill="#000"/>
<text x="835.2" y="822.6" font-size="9" textLength="52.6" lengthAdjust="spacingAndGlyphs" fill="#000" stroke="#000" stroke-width="0.22" xml:space="preserve">26 Jan 12:14</text>
<rect x="900" y="811" width="1" height="3" fill="#000"/>
<text x="899.2" y="822.6" font-size="9" textLength="52.6" lengthAdjust="spacingAndGlyphs" fill="#000" stroke="#000" stroke-width="0.22" xml:space="preserve">26 Jan 12:30</text>
<rect x="964" y="811" width="1" height="3" fill="#000"/>
<text x="963.2" y="822.6" font-size="9" textLength="52.6" lengthAdjust="spacingAndGlyphs" fill="#000" stroke="#000" stroke-width="0.22" xml:space="preserve">26 Jan 12:46</text>
<rect x="1028" y="811" width="1" height="3" fill="#000"/>
<text x="1027.2" y="822.6" font-size="9" textLength="52.6" lengthAdjust="spacingAndGlyphs" fill="#000" stroke="#000" stroke-width="0.22" xml:space="preserve">26 Jan 13:02</text>
<rect x="1092" y="811" width="1" height="3" fill="#000"/>
<text x="1091.2" y="822.6" font-size="9" textLength="52.6" lengthAdjust="spacingAndGlyphs" fill="#000" stroke="#000" stroke-width="0.22" xml:space="preserve">26 Jan 13:18</text>
<rect x="1156" y="811" width="1" height="3" fill="#000"/>
<text x="1155.2" y="822.6" font-size="9" textLength="52.6" lengthAdjust="spacingAndGlyphs" fill="#000" stroke="#000" stroke-width="0.22" xml:space="preserve">26 Jan 13:34</text>
<rect x="1220" y="811" width="1" height="3" fill="#000"/>
<text x="1219.2" y="822.6" font-size="9" textLength="52.6" lengthAdjust="spacingAndGlyphs" fill="#000" stroke="#000" stroke-width="0.22" xml:space="preserve">26 Jan 13:50</text>
<rect x="1284" y="811" width="1" height="3" fill="#000"/>
<text x="1283.2" y="822.6" font-size="9" textLength="52.6" lengthAdjust="spacingAndGlyphs" fill="#000" stroke="#000" stroke-width="0.22" xml:space="preserve">26 Jan 14:06</text>
<rect x="1348" y="811" width="1" height="3" fill="#000"/>
<text x="1347.2" y="822.6" font-size="9" textLength="52.6" lengthAdjust="spacingAndGlyphs" fill="#000" stroke="#000" stroke-width="0.22" xml:space="preserve">26 Jan 14:22</text>
<rect x="1412" y="811" width="1" height="3" fill="#000"/>
<text x="1411.2" y="822.6" font-size="9" textLength="52.6" lengthAdjust="spacingAndGlyphs" fill="#000" stroke="#000" stroke-width="0.22" xml:space="preserve">26 Jan 14:38</text>
<rect x="1476" y="811" width="1" height="3" fill="#000"/>
<text x="1475.2" y="822.6" font-size="9" textLength="52.6" lengthAdjust="spacingAndGlyphs" fill="#000" stroke="#000" stroke-width="0.22" xml:space="preserve">26 Jan 14:54</text>
<rect x="1540" y="811" width="1" height="3" fill="#000"/>
<text x="1539.2" y="822.6" font-size="9" textLength="52.6" lengthAdjust="spacingAndGlyphs" fill="#000" stroke="#000" stroke-width="0.22" xml:space="preserve">26 Jan 15:10</text>
<rect x="1604" y="811" width="1" height="3" fill="#000"/>
<text x="1603.2" y="822.6" font-size="9" textLength="52.6" lengthAdjust="spacingAndGlyphs" fill="#000" stroke="#000" stroke-width="0.22" xml:space="preserve">26 Jan 15:26</text>
<rect x="1668" y="811" width="1" height="3" fill="#000"/>
<text x="1667.2" y="822.6" font-size="9" textLength="52.6" lengthAdjust="spacingAndGlyphs" fill="#000" stroke="#000" stroke-width="0.22" xml:space="preserve">26 Jan 15:42</text>
<rect x="1732" y="811" width="1" height="3" fill="#000"/>
<text x="1731.2" y="822.6" font-size="9" textLength="52.6" lengthAdjust="spacingAndGlyphs" fill="#000" stroke="#000" stroke-width="0.22" xml:space="preserve">26 Jan 15:58</text>
</svg>
</body></html>
